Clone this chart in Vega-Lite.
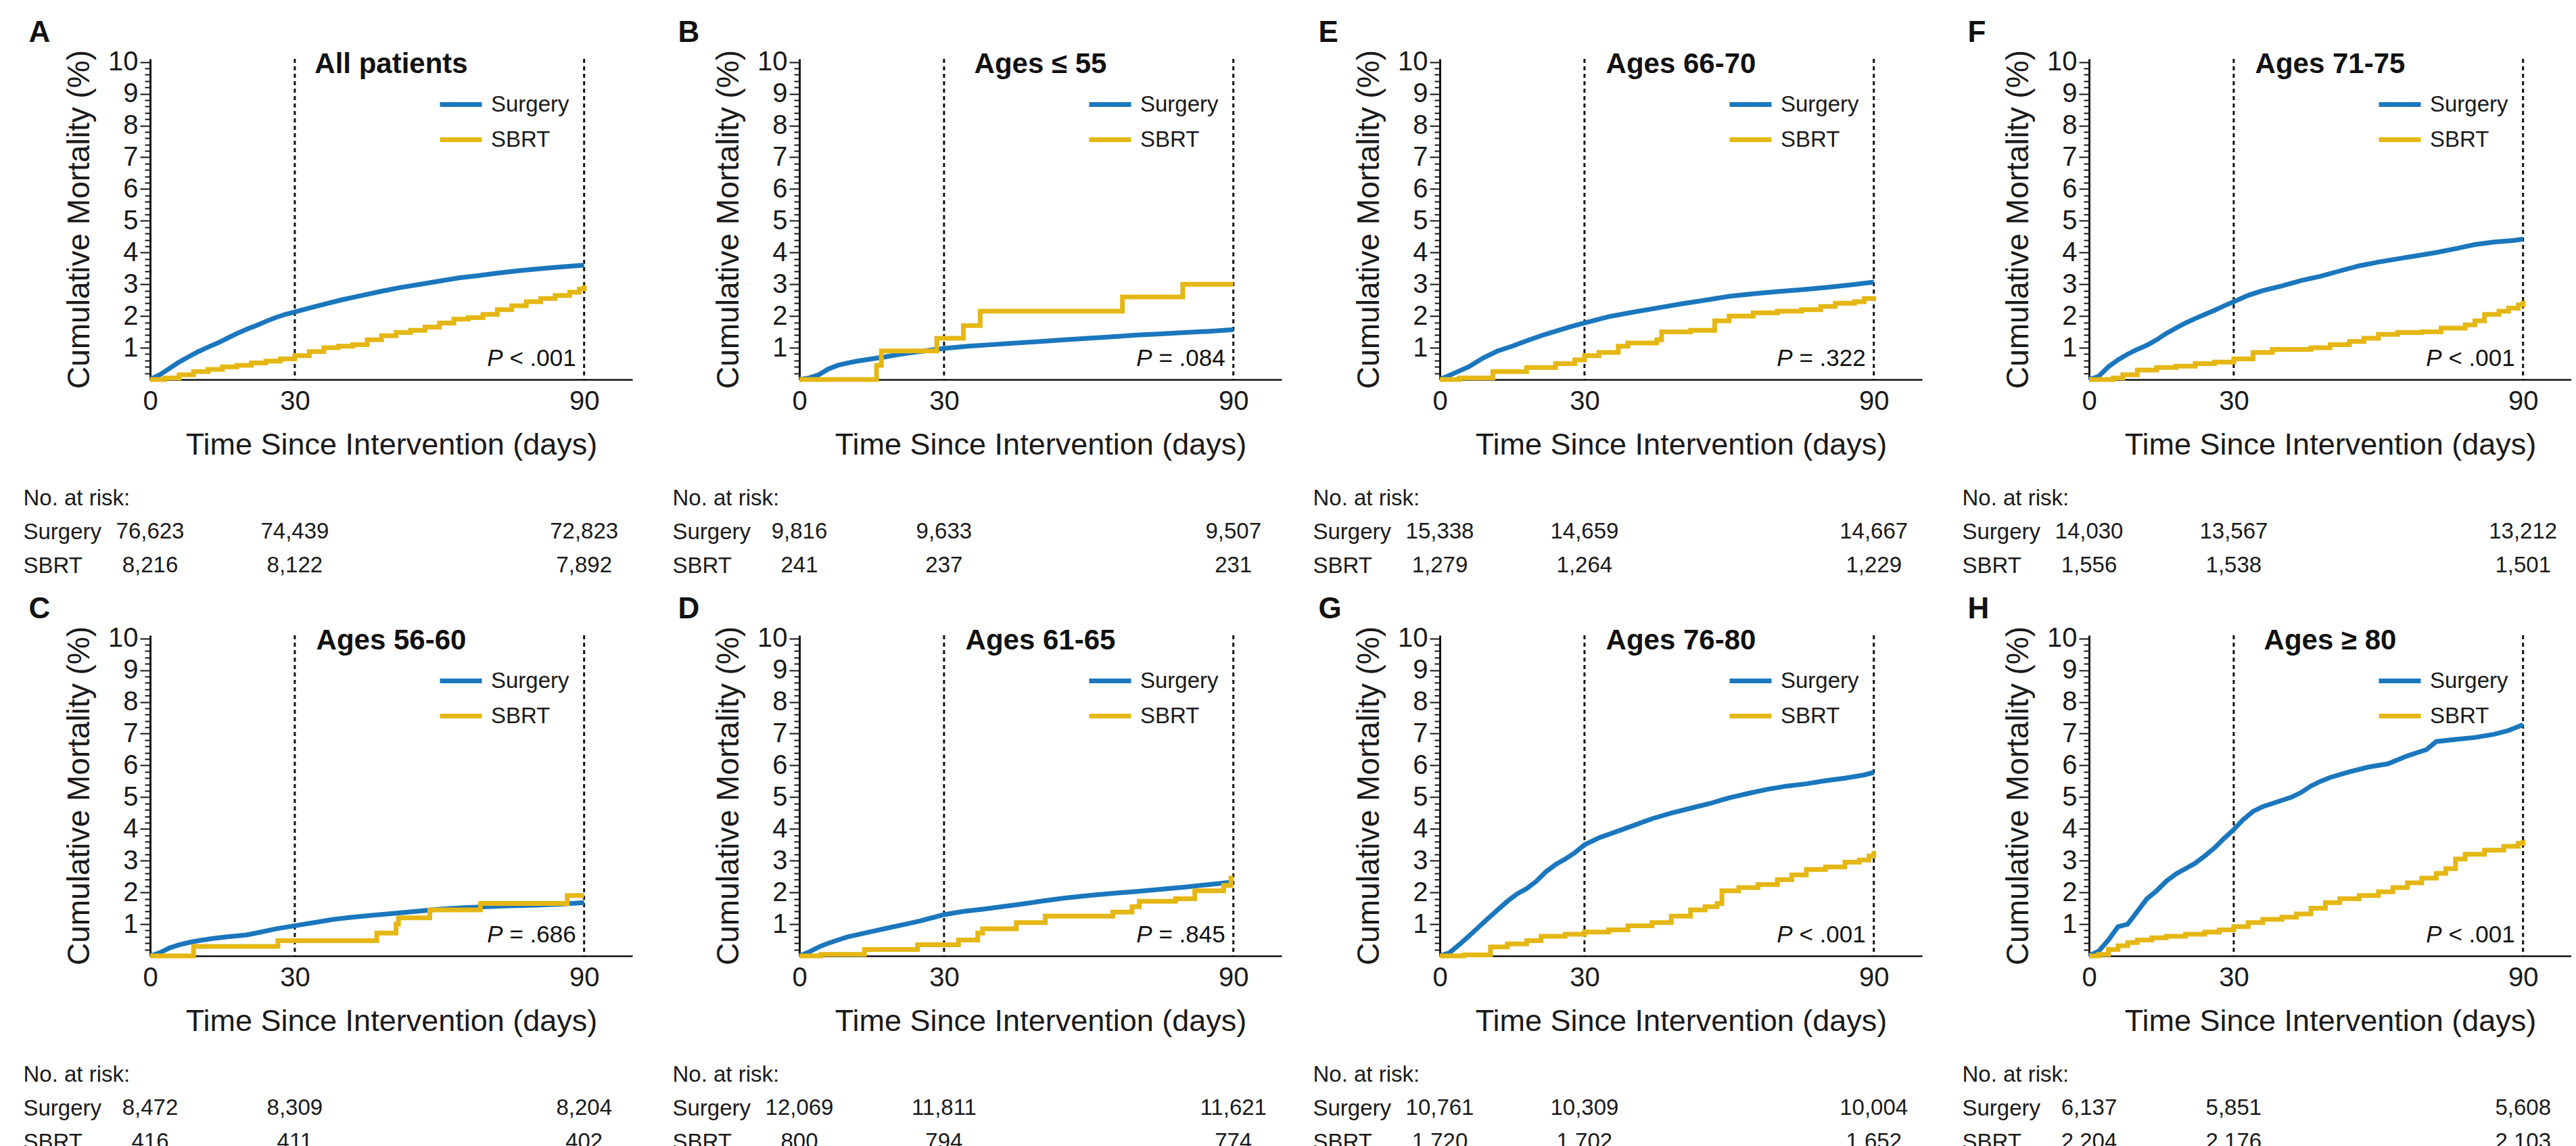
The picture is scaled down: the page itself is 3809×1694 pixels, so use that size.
{
"$schema": "https://vega.github.io/schema/vega-lite/v6.json",
"background": "white",
"padding": {"left": 34, "top": 26, "right": 0, "bottom": 0},
"config": {"view": {"stroke": null}, "font": "Liberation Sans", "axis": {"labelColor": "#1a1a1a", "titleColor": "#1a1a1a", "titleFontWeight": "normal", "grid": false}, "title": {"color": "#111"}},
"datasets": {
"refs": [{"day": 30}, {"day": 90}],
"panels": [
{"panel": "A", "label": "All patients", "pval": "< .001"},
{"panel": "B", "label": "Ages ≤ 55", "pval": "= .084"},
{"panel": "C", "label": "Ages 56-60", "pval": "= .686"},
{"panel": "D", "label": "Ages 61-65", "pval": "= .845"},
{"panel": "E", "label": "Ages 66-70", "pval": "= .322"},
{"panel": "F", "label": "Ages 71-75", "pval": "< .001"},
{"panel": "G", "label": "Ages 76-80", "pval": "< .001"},
{"panel": "H", "label": "Ages ≥ 80", "pval": "< .001"}
],
"risk": [
{"panel": "A", "group": "Surgery", "day": 0, "n": "76,623"}, {"panel": "A", "group": "Surgery", "day": 30, "n": "74,439"}, {"panel": "A", "group": "Surgery", "day": 90, "n": "72,823"},
{"panel": "A", "group": "SBRT", "day": 0, "n": "8,216"}, {"panel": "A", "group": "SBRT", "day": 30, "n": "8,122"}, {"panel": "A", "group": "SBRT", "day": 90, "n": "7,892"},
{"panel": "B", "group": "Surgery", "day": 0, "n": "9,816"}, {"panel": "B", "group": "Surgery", "day": 30, "n": "9,633"}, {"panel": "B", "group": "Surgery", "day": 90, "n": "9,507"},
{"panel": "B", "group": "SBRT", "day": 0, "n": "241"}, {"panel": "B", "group": "SBRT", "day": 30, "n": "237"}, {"panel": "B", "group": "SBRT", "day": 90, "n": "231"},
{"panel": "C", "group": "Surgery", "day": 0, "n": "8,472"}, {"panel": "C", "group": "Surgery", "day": 30, "n": "8,309"}, {"panel": "C", "group": "Surgery", "day": 90, "n": "8,204"},
{"panel": "C", "group": "SBRT", "day": 0, "n": "416"}, {"panel": "C", "group": "SBRT", "day": 30, "n": "411"}, {"panel": "C", "group": "SBRT", "day": 90, "n": "402"},
{"panel": "D", "group": "Surgery", "day": 0, "n": "12,069"}, {"panel": "D", "group": "Surgery", "day": 30, "n": "11,811"}, {"panel": "D", "group": "Surgery", "day": 90, "n": "11,621"},
{"panel": "D", "group": "SBRT", "day": 0, "n": "800"}, {"panel": "D", "group": "SBRT", "day": 30, "n": "794"}, {"panel": "D", "group": "SBRT", "day": 90, "n": "774"},
{"panel": "E", "group": "Surgery", "day": 0, "n": "15,338"}, {"panel": "E", "group": "Surgery", "day": 30, "n": "14,659"}, {"panel": "E", "group": "Surgery", "day": 90, "n": "14,667"},
{"panel": "E", "group": "SBRT", "day": 0, "n": "1,279"}, {"panel": "E", "group": "SBRT", "day": 30, "n": "1,264"}, {"panel": "E", "group": "SBRT", "day": 90, "n": "1,229"},
{"panel": "F", "group": "Surgery", "day": 0, "n": "14,030"}, {"panel": "F", "group": "Surgery", "day": 30, "n": "13,567"}, {"panel": "F", "group": "Surgery", "day": 90, "n": "13,212"},
{"panel": "F", "group": "SBRT", "day": 0, "n": "1,556"}, {"panel": "F", "group": "SBRT", "day": 30, "n": "1,538"}, {"panel": "F", "group": "SBRT", "day": 90, "n": "1,501"},
{"panel": "G", "group": "Surgery", "day": 0, "n": "10,761"}, {"panel": "G", "group": "Surgery", "day": 30, "n": "10,309"}, {"panel": "G", "group": "Surgery", "day": 90, "n": "10,004"},
{"panel": "G", "group": "SBRT", "day": 0, "n": "1,720"}, {"panel": "G", "group": "SBRT", "day": 30, "n": "1,702"}, {"panel": "G", "group": "SBRT", "day": 90, "n": "1,652"},
{"panel": "H", "group": "Surgery", "day": 0, "n": "6,137"}, {"panel": "H", "group": "Surgery", "day": 30, "n": "5,851"}, {"panel": "H", "group": "Surgery", "day": 90, "n": "5,608"},
{"panel": "H", "group": "SBRT", "day": 0, "n": "2,204"}, {"panel": "H", "group": "SBRT", "day": 30, "n": "2,176"}, {"panel": "H", "group": "SBRT", "day": 90, "n": "2,103"}
],
"curves": [
{"panel":"A","group":"Surgery","day":0,"pct":0},{"panel":"A","group":"Surgery","day":2,"pct":0.15},{"panel":"A","group":"Surgery","day":4,"pct":0.35},{"panel":"A","group":"Surgery","day":6,"pct":0.55},{"panel":"A","group":"Surgery","day":8,"pct":0.72},{"panel":"A","group":"Surgery","day":10,"pct":0.88},{"panel":"A","group":"Surgery","day":12,"pct":1.02},{"panel":"A","group":"Surgery","day":14,"pct":1.15},{"panel":"A","group":"Surgery","day":16,"pct":1.3},{"panel":"A","group":"Surgery","day":18,"pct":1.45},{"panel":"A","group":"Surgery","day":20,"pct":1.58},{"panel":"A","group":"Surgery","day":22,"pct":1.7},{"panel":"A","group":"Surgery","day":24,"pct":1.83},{"panel":"A","group":"Surgery","day":26,"pct":1.95},{"panel":"A","group":"Surgery","day":28,"pct":2.05},{"panel":"A","group":"Surgery","day":30,"pct":2.13},{"panel":"A","group":"Surgery","day":33,"pct":2.25},{"panel":"A","group":"Surgery","day":36,"pct":2.37},{"panel":"A","group":"Surgery","day":40,"pct":2.52},{"panel":"A","group":"Surgery","day":44,"pct":2.65},{"panel":"A","group":"Surgery","day":48,"pct":2.78},{"panel":"A","group":"Surgery","day":52,"pct":2.9},{"panel":"A","group":"Surgery","day":56,"pct":3.0},{"panel":"A","group":"Surgery","day":60,"pct":3.1},{"panel":"A","group":"Surgery","day":64,"pct":3.2},{"panel":"A","group":"Surgery","day":68,"pct":3.27},{"panel":"A","group":"Surgery","day":72,"pct":3.35},{"panel":"A","group":"Surgery","day":76,"pct":3.42},{"panel":"A","group":"Surgery","day":80,"pct":3.48},{"panel":"A","group":"Surgery","day":84,"pct":3.53},{"panel":"A","group":"Surgery","day":88,"pct":3.58},{"panel":"A","group":"Surgery","day":90,"pct":3.6},
{"panel":"A","group":"SBRT","day":0,"pct":0},{"panel":"A","group":"SBRT","day":3,"pct":0.05},{"panel":"A","group":"SBRT","day":6,"pct":0.15},{"panel":"A","group":"SBRT","day":9,"pct":0.25},{"panel":"A","group":"SBRT","day":12,"pct":0.32},{"panel":"A","group":"SBRT","day":15,"pct":0.4},{"panel":"A","group":"SBRT","day":18,"pct":0.45},{"panel":"A","group":"SBRT","day":21,"pct":0.52},{"panel":"A","group":"SBRT","day":24,"pct":0.58},{"panel":"A","group":"SBRT","day":27,"pct":0.65},{"panel":"A","group":"SBRT","day":30,"pct":0.75},{"panel":"A","group":"SBRT","day":33,"pct":0.88},{"panel":"A","group":"SBRT","day":36,"pct":1.0},{"panel":"A","group":"SBRT","day":39,"pct":1.05},{"panel":"A","group":"SBRT","day":42,"pct":1.1},{"panel":"A","group":"SBRT","day":45,"pct":1.25},{"panel":"A","group":"SBRT","day":48,"pct":1.38},{"panel":"A","group":"SBRT","day":51,"pct":1.48},{"panel":"A","group":"SBRT","day":54,"pct":1.55},{"panel":"A","group":"SBRT","day":57,"pct":1.65},{"panel":"A","group":"SBRT","day":60,"pct":1.78},{"panel":"A","group":"SBRT","day":63,"pct":1.9},{"panel":"A","group":"SBRT","day":66,"pct":1.95},{"panel":"A","group":"SBRT","day":69,"pct":2.05},{"panel":"A","group":"SBRT","day":72,"pct":2.2},{"panel":"A","group":"SBRT","day":75,"pct":2.32},{"panel":"A","group":"SBRT","day":78,"pct":2.45},{"panel":"A","group":"SBRT","day":81,"pct":2.55},{"panel":"A","group":"SBRT","day":84,"pct":2.65},{"panel":"A","group":"SBRT","day":87,"pct":2.75},{"panel":"A","group":"SBRT","day":89,"pct":2.85},{"panel":"A","group":"SBRT","day":90,"pct":2.97},
{"panel":"B","group":"Surgery","day":0,"pct":0},{"panel":"B","group":"Surgery","day":2,"pct":0.05},{"panel":"B","group":"Surgery","day":4,"pct":0.15},{"panel":"B","group":"Surgery","day":6,"pct":0.33},{"panel":"B","group":"Surgery","day":8,"pct":0.45},{"panel":"B","group":"Surgery","day":10,"pct":0.52},{"panel":"B","group":"Surgery","day":12,"pct":0.58},{"panel":"B","group":"Surgery","day":15,"pct":0.65},{"panel":"B","group":"Surgery","day":18,"pct":0.72},{"panel":"B","group":"Surgery","day":21,"pct":0.8},{"panel":"B","group":"Surgery","day":24,"pct":0.86},{"panel":"B","group":"Surgery","day":27,"pct":0.92},{"panel":"B","group":"Surgery","day":30,"pct":0.98},{"panel":"B","group":"Surgery","day":35,"pct":1.05},{"panel":"B","group":"Surgery","day":40,"pct":1.1},{"panel":"B","group":"Surgery","day":45,"pct":1.15},{"panel":"B","group":"Surgery","day":50,"pct":1.2},{"panel":"B","group":"Surgery","day":55,"pct":1.25},{"panel":"B","group":"Surgery","day":60,"pct":1.3},{"panel":"B","group":"Surgery","day":65,"pct":1.35},{"panel":"B","group":"Surgery","day":70,"pct":1.4},{"panel":"B","group":"Surgery","day":75,"pct":1.44},{"panel":"B","group":"Surgery","day":80,"pct":1.48},{"panel":"B","group":"Surgery","day":85,"pct":1.52},{"panel":"B","group":"Surgery","day":90,"pct":1.57},
{"panel":"B","group":"SBRT","day":0,"pct":0},{"panel":"B","group":"SBRT","day":16,"pct":0.45},{"panel":"B","group":"SBRT","day":17,"pct":0.9},{"panel":"B","group":"SBRT","day":28.5,"pct":1.3},{"panel":"B","group":"SBRT","day":34,"pct":1.7},{"panel":"B","group":"SBRT","day":37.5,"pct":2.15},{"panel":"B","group":"SBRT","day":67,"pct":2.6},{"panel":"B","group":"SBRT","day":79.5,"pct":3.0},{"panel":"B","group":"SBRT","day":90,"pct":3.0},
{"panel":"C","group":"Surgery","day":0,"pct":0},{"panel":"C","group":"Surgery","day":2,"pct":0.1},{"panel":"C","group":"Surgery","day":4,"pct":0.25},{"panel":"C","group":"Surgery","day":6,"pct":0.35},{"panel":"C","group":"Surgery","day":8,"pct":0.42},{"panel":"C","group":"Surgery","day":10,"pct":0.48},{"panel":"C","group":"Surgery","day":13,"pct":0.55},{"panel":"C","group":"Surgery","day":16,"pct":0.6},{"panel":"C","group":"Surgery","day":20,"pct":0.66},{"panel":"C","group":"Surgery","day":23,"pct":0.75},{"panel":"C","group":"Surgery","day":26,"pct":0.85},{"panel":"C","group":"Surgery","day":30,"pct":0.95},{"panel":"C","group":"Surgery","day":34,"pct":1.05},{"panel":"C","group":"Surgery","day":38,"pct":1.15},{"panel":"C","group":"Surgery","day":42,"pct":1.22},{"panel":"C","group":"Surgery","day":46,"pct":1.28},{"panel":"C","group":"Surgery","day":50,"pct":1.33},{"panel":"C","group":"Surgery","day":55,"pct":1.4},{"panel":"C","group":"Surgery","day":60,"pct":1.47},{"panel":"C","group":"Surgery","day":65,"pct":1.52},{"panel":"C","group":"Surgery","day":70,"pct":1.55},{"panel":"C","group":"Surgery","day":75,"pct":1.58},{"panel":"C","group":"Surgery","day":80,"pct":1.6},{"panel":"C","group":"Surgery","day":85,"pct":1.63},{"panel":"C","group":"Surgery","day":90,"pct":1.68},
{"panel":"C","group":"SBRT","day":0,"pct":0},{"panel":"C","group":"SBRT","day":9,"pct":0.3},{"panel":"C","group":"SBRT","day":26.5,"pct":0.48},{"panel":"C","group":"SBRT","day":47,"pct":0.72},{"panel":"C","group":"SBRT","day":51,"pct":1.0},{"panel":"C","group":"SBRT","day":51.5,"pct":1.2},{"panel":"C","group":"SBRT","day":58,"pct":1.45},{"panel":"C","group":"SBRT","day":68.5,"pct":1.65},{"panel":"C","group":"SBRT","day":86.5,"pct":1.9},{"panel":"C","group":"SBRT","day":90,"pct":1.9},
{"panel":"D","group":"Surgery","day":0,"pct":0},{"panel":"D","group":"Surgery","day":2,"pct":0.12},{"panel":"D","group":"Surgery","day":4,"pct":0.28},{"panel":"D","group":"Surgery","day":6,"pct":0.4},{"panel":"D","group":"Surgery","day":8,"pct":0.5},{"panel":"D","group":"Surgery","day":10,"pct":0.6},{"panel":"D","group":"Surgery","day":13,"pct":0.7},{"panel":"D","group":"Surgery","day":16,"pct":0.8},{"panel":"D","group":"Surgery","day":19,"pct":0.9},{"panel":"D","group":"Surgery","day":22,"pct":1.0},{"panel":"D","group":"Surgery","day":25,"pct":1.1},{"panel":"D","group":"Surgery","day":28,"pct":1.22},{"panel":"D","group":"Surgery","day":30,"pct":1.3},{"panel":"D","group":"Surgery","day":34,"pct":1.4},{"panel":"D","group":"Surgery","day":38,"pct":1.47},{"panel":"D","group":"Surgery","day":42,"pct":1.55},{"panel":"D","group":"Surgery","day":46,"pct":1.63},{"panel":"D","group":"Surgery","day":50,"pct":1.72},{"panel":"D","group":"Surgery","day":55,"pct":1.82},{"panel":"D","group":"Surgery","day":60,"pct":1.9},{"panel":"D","group":"Surgery","day":65,"pct":1.97},{"panel":"D","group":"Surgery","day":70,"pct":2.03},{"panel":"D","group":"Surgery","day":75,"pct":2.1},{"panel":"D","group":"Surgery","day":80,"pct":2.17},{"panel":"D","group":"Surgery","day":85,"pct":2.25},{"panel":"D","group":"Surgery","day":90,"pct":2.33},
{"panel":"D","group":"SBRT","day":0,"pct":0},{"panel":"D","group":"SBRT","day":4.5,"pct":0.05},{"panel":"D","group":"SBRT","day":13.5,"pct":0.2},{"panel":"D","group":"SBRT","day":24.5,"pct":0.35},{"panel":"D","group":"SBRT","day":33,"pct":0.5},{"panel":"D","group":"SBRT","day":37,"pct":0.72},{"panel":"D","group":"SBRT","day":38,"pct":0.85},{"panel":"D","group":"SBRT","day":45,"pct":1.05},{"panel":"D","group":"SBRT","day":51,"pct":1.25},{"panel":"D","group":"SBRT","day":65,"pct":1.38},{"panel":"D","group":"SBRT","day":69,"pct":1.55},{"panel":"D","group":"SBRT","day":70.5,"pct":1.72},{"panel":"D","group":"SBRT","day":78,"pct":1.8},{"panel":"D","group":"SBRT","day":82,"pct":2.05},{"panel":"D","group":"SBRT","day":88,"pct":2.22},{"panel":"D","group":"SBRT","day":89.5,"pct":2.45},{"panel":"D","group":"SBRT","day":90,"pct":2.45},
{"panel":"E","group":"Surgery","day":0,"pct":0},{"panel":"E","group":"Surgery","day":3,"pct":0.2},{"panel":"E","group":"Surgery","day":6,"pct":0.4},{"panel":"E","group":"Surgery","day":9,"pct":0.68},{"panel":"E","group":"Surgery","day":12,"pct":0.9},{"panel":"E","group":"Surgery","day":15,"pct":1.05},{"panel":"E","group":"Surgery","day":18,"pct":1.22},{"panel":"E","group":"Surgery","day":21,"pct":1.38},{"panel":"E","group":"Surgery","day":24,"pct":1.52},{"panel":"E","group":"Surgery","day":27,"pct":1.66},{"panel":"E","group":"Surgery","day":30,"pct":1.78},{"panel":"E","group":"Surgery","day":35,"pct":1.98},{"panel":"E","group":"Surgery","day":40,"pct":2.12},{"panel":"E","group":"Surgery","day":45,"pct":2.25},{"panel":"E","group":"Surgery","day":50,"pct":2.38},{"panel":"E","group":"Surgery","day":55,"pct":2.5},{"panel":"E","group":"Surgery","day":60,"pct":2.62},{"panel":"E","group":"Surgery","day":65,"pct":2.7},{"panel":"E","group":"Surgery","day":70,"pct":2.77},{"panel":"E","group":"Surgery","day":75,"pct":2.83},{"panel":"E","group":"Surgery","day":80,"pct":2.9},{"panel":"E","group":"Surgery","day":85,"pct":2.98},{"panel":"E","group":"Surgery","day":90,"pct":3.07},
{"panel":"E","group":"SBRT","day":0,"pct":0},{"panel":"E","group":"SBRT","day":4,"pct":0.05},{"panel":"E","group":"SBRT","day":11,"pct":0.25},{"panel":"E","group":"SBRT","day":18,"pct":0.38},{"panel":"E","group":"SBRT","day":24,"pct":0.5},{"panel":"E","group":"SBRT","day":28,"pct":0.62},{"panel":"E","group":"SBRT","day":30,"pct":0.75},{"panel":"E","group":"SBRT","day":33,"pct":0.85},{"panel":"E","group":"SBRT","day":37,"pct":1.05},{"panel":"E","group":"SBRT","day":39,"pct":1.15},{"panel":"E","group":"SBRT","day":45,"pct":1.25},{"panel":"E","group":"SBRT","day":46,"pct":1.5},{"panel":"E","group":"SBRT","day":52,"pct":1.55},{"panel":"E","group":"SBRT","day":57,"pct":1.85},{"panel":"E","group":"SBRT","day":60,"pct":2.0},{"panel":"E","group":"SBRT","day":65,"pct":2.1},{"panel":"E","group":"SBRT","day":70,"pct":2.15},{"panel":"E","group":"SBRT","day":75,"pct":2.2},{"panel":"E","group":"SBRT","day":79,"pct":2.3},{"panel":"E","group":"SBRT","day":82,"pct":2.4},{"panel":"E","group":"SBRT","day":86,"pct":2.45},{"panel":"E","group":"SBRT","day":88,"pct":2.55},{"panel":"E","group":"SBRT","day":90,"pct":2.62},
{"panel":"F","group":"Surgery","day":0,"pct":0},{"panel":"F","group":"Surgery","day":2,"pct":0.1},{"panel":"F","group":"Surgery","day":4,"pct":0.4},{"panel":"F","group":"Surgery","day":6,"pct":0.62},{"panel":"F","group":"Surgery","day":8,"pct":0.8},{"panel":"F","group":"Surgery","day":10,"pct":0.95},{"panel":"F","group":"Surgery","day":12,"pct":1.08},{"panel":"F","group":"Surgery","day":14,"pct":1.25},{"panel":"F","group":"Surgery","day":16,"pct":1.45},{"panel":"F","group":"Surgery","day":18,"pct":1.62},{"panel":"F","group":"Surgery","day":20,"pct":1.78},{"panel":"F","group":"Surgery","day":22,"pct":1.92},{"panel":"F","group":"Surgery","day":24,"pct":2.05},{"panel":"F","group":"Surgery","day":26,"pct":2.18},{"panel":"F","group":"Surgery","day":28,"pct":2.32},{"panel":"F","group":"Surgery","day":30,"pct":2.45},{"panel":"F","group":"Surgery","day":33,"pct":2.65},{"panel":"F","group":"Surgery","day":36,"pct":2.8},{"panel":"F","group":"Surgery","day":40,"pct":2.95},{"panel":"F","group":"Surgery","day":44,"pct":3.12},{"panel":"F","group":"Surgery","day":48,"pct":3.25},{"panel":"F","group":"Surgery","day":52,"pct":3.42},{"panel":"F","group":"Surgery","day":56,"pct":3.58},{"panel":"F","group":"Surgery","day":60,"pct":3.7},{"panel":"F","group":"Surgery","day":64,"pct":3.8},{"panel":"F","group":"Surgery","day":68,"pct":3.9},{"panel":"F","group":"Surgery","day":72,"pct":4.0},{"panel":"F","group":"Surgery","day":76,"pct":4.12},{"panel":"F","group":"Surgery","day":80,"pct":4.25},{"panel":"F","group":"Surgery","day":84,"pct":4.33},{"panel":"F","group":"Surgery","day":88,"pct":4.38},{"panel":"F","group":"Surgery","day":90,"pct":4.42},
{"panel":"F","group":"SBRT","day":0,"pct":0},{"panel":"F","group":"SBRT","day":5,"pct":0.05},{"panel":"F","group":"SBRT","day":7,"pct":0.15},{"panel":"F","group":"SBRT","day":10,"pct":0.3},{"panel":"F","group":"SBRT","day":14,"pct":0.38},{"panel":"F","group":"SBRT","day":18,"pct":0.42},{"panel":"F","group":"SBRT","day":22,"pct":0.5},{"panel":"F","group":"SBRT","day":26,"pct":0.55},{"panel":"F","group":"SBRT","day":30,"pct":0.65},{"panel":"F","group":"SBRT","day":34,"pct":0.85},{"panel":"F","group":"SBRT","day":38,"pct":0.95},{"panel":"F","group":"SBRT","day":46,"pct":1.0},{"panel":"F","group":"SBRT","day":50,"pct":1.1},{"panel":"F","group":"SBRT","day":54,"pct":1.2},{"panel":"F","group":"SBRT","day":57,"pct":1.3},{"panel":"F","group":"SBRT","day":60,"pct":1.42},{"panel":"F","group":"SBRT","day":64,"pct":1.48},{"panel":"F","group":"SBRT","day":69,"pct":1.5},{"panel":"F","group":"SBRT","day":73,"pct":1.62},{"panel":"F","group":"SBRT","day":78,"pct":1.72},{"panel":"F","group":"SBRT","day":80,"pct":1.85},{"panel":"F","group":"SBRT","day":82,"pct":2.05},{"panel":"F","group":"SBRT","day":85,"pct":2.15},{"panel":"F","group":"SBRT","day":87,"pct":2.25},{"panel":"F","group":"SBRT","day":89,"pct":2.35},{"panel":"F","group":"SBRT","day":90,"pct":2.48},
{"panel":"G","group":"Surgery","day":0,"pct":0},{"panel":"G","group":"Surgery","day":2,"pct":0.1},{"panel":"G","group":"Surgery","day":4,"pct":0.35},{"panel":"G","group":"Surgery","day":6,"pct":0.62},{"panel":"G","group":"Surgery","day":8,"pct":0.9},{"panel":"G","group":"Surgery","day":10,"pct":1.18},{"panel":"G","group":"Surgery","day":12,"pct":1.45},{"panel":"G","group":"Surgery","day":14,"pct":1.72},{"panel":"G","group":"Surgery","day":16,"pct":1.95},{"panel":"G","group":"Surgery","day":18,"pct":2.12},{"panel":"G","group":"Surgery","day":20,"pct":2.35},{"panel":"G","group":"Surgery","day":22,"pct":2.65},{"panel":"G","group":"Surgery","day":24,"pct":2.88},{"panel":"G","group":"Surgery","day":26,"pct":3.05},{"panel":"G","group":"Surgery","day":28,"pct":3.25},{"panel":"G","group":"Surgery","day":30,"pct":3.5},{"panel":"G","group":"Surgery","day":33,"pct":3.72},{"panel":"G","group":"Surgery","day":36,"pct":3.88},{"panel":"G","group":"Surgery","day":40,"pct":4.1},{"panel":"G","group":"Surgery","day":44,"pct":4.32},{"panel":"G","group":"Surgery","day":48,"pct":4.5},{"panel":"G","group":"Surgery","day":52,"pct":4.65},{"panel":"G","group":"Surgery","day":56,"pct":4.8},{"panel":"G","group":"Surgery","day":60,"pct":4.98},{"panel":"G","group":"Surgery","day":64,"pct":5.12},{"panel":"G","group":"Surgery","day":68,"pct":5.25},{"panel":"G","group":"Surgery","day":72,"pct":5.35},{"panel":"G","group":"Surgery","day":76,"pct":5.42},{"panel":"G","group":"Surgery","day":80,"pct":5.52},{"panel":"G","group":"Surgery","day":84,"pct":5.6},{"panel":"G","group":"Surgery","day":88,"pct":5.7},{"panel":"G","group":"Surgery","day":90,"pct":5.78},
{"panel":"G","group":"SBRT","day":0,"pct":0},{"panel":"G","group":"SBRT","day":5,"pct":0.03},{"panel":"G","group":"SBRT","day":10.5,"pct":0.28},{"panel":"G","group":"SBRT","day":14,"pct":0.38},{"panel":"G","group":"SBRT","day":18,"pct":0.48},{"panel":"G","group":"SBRT","day":21,"pct":0.62},{"panel":"G","group":"SBRT","day":26,"pct":0.68},{"panel":"G","group":"SBRT","day":30,"pct":0.75},{"panel":"G","group":"SBRT","day":35,"pct":0.82},{"panel":"G","group":"SBRT","day":39,"pct":0.95},{"panel":"G","group":"SBRT","day":44,"pct":1.05},{"panel":"G","group":"SBRT","day":48,"pct":1.25},{"panel":"G","group":"SBRT","day":52,"pct":1.45},{"panel":"G","group":"SBRT","day":55,"pct":1.55},{"panel":"G","group":"SBRT","day":57.5,"pct":1.65},{"panel":"G","group":"SBRT","day":58.5,"pct":2.05},{"panel":"G","group":"SBRT","day":62,"pct":2.15},{"panel":"G","group":"SBRT","day":66,"pct":2.25},{"panel":"G","group":"SBRT","day":70,"pct":2.4},{"panel":"G","group":"SBRT","day":73,"pct":2.55},{"panel":"G","group":"SBRT","day":76,"pct":2.72},{"panel":"G","group":"SBRT","day":80,"pct":2.8},{"panel":"G","group":"SBRT","day":84,"pct":2.95},{"panel":"G","group":"SBRT","day":87,"pct":3.02},{"panel":"G","group":"SBRT","day":89,"pct":3.15},{"panel":"G","group":"SBRT","day":90,"pct":3.3},
{"panel":"H","group":"Surgery","day":0,"pct":0},{"panel":"H","group":"Surgery","day":2,"pct":0.15},{"panel":"H","group":"Surgery","day":4,"pct":0.5},{"panel":"H","group":"Surgery","day":6,"pct":0.92},{"panel":"H","group":"Surgery","day":8,"pct":1.0},{"panel":"H","group":"Surgery","day":10,"pct":1.4},{"panel":"H","group":"Surgery","day":12,"pct":1.8},{"panel":"H","group":"Surgery","day":14,"pct":2.05},{"panel":"H","group":"Surgery","day":16,"pct":2.35},{"panel":"H","group":"Surgery","day":18,"pct":2.58},{"panel":"H","group":"Surgery","day":20,"pct":2.75},{"panel":"H","group":"Surgery","day":22,"pct":2.92},{"panel":"H","group":"Surgery","day":24,"pct":3.15},{"panel":"H","group":"Surgery","day":26,"pct":3.4},{"panel":"H","group":"Surgery","day":28,"pct":3.7},{"panel":"H","group":"Surgery","day":30,"pct":3.98},{"panel":"H","group":"Surgery","day":32,"pct":4.3},{"panel":"H","group":"Surgery","day":34,"pct":4.55},{"panel":"H","group":"Surgery","day":36,"pct":4.7},{"panel":"H","group":"Surgery","day":38,"pct":4.8},{"panel":"H","group":"Surgery","day":40,"pct":4.9},{"panel":"H","group":"Surgery","day":42,"pct":5.0},{"panel":"H","group":"Surgery","day":44,"pct":5.15},{"panel":"H","group":"Surgery","day":46,"pct":5.35},{"panel":"H","group":"Surgery","day":48,"pct":5.5},{"panel":"H","group":"Surgery","day":50,"pct":5.62},{"panel":"H","group":"Surgery","day":54,"pct":5.8},{"panel":"H","group":"Surgery","day":58,"pct":5.95},{"panel":"H","group":"Surgery","day":62,"pct":6.05},{"panel":"H","group":"Surgery","day":66,"pct":6.3},{"panel":"H","group":"Surgery","day":70,"pct":6.5},{"panel":"H","group":"Surgery","day":72,"pct":6.75},{"panel":"H","group":"Surgery","day":76,"pct":6.82},{"panel":"H","group":"Surgery","day":80,"pct":6.88},{"panel":"H","group":"Surgery","day":84,"pct":6.98},{"panel":"H","group":"Surgery","day":87,"pct":7.1},{"panel":"H","group":"Surgery","day":90,"pct":7.28},
{"panel":"H","group":"SBRT","day":0,"pct":0},{"panel":"H","group":"SBRT","day":2,"pct":0.05},{"panel":"H","group":"SBRT","day":4,"pct":0.2},{"panel":"H","group":"SBRT","day":6,"pct":0.32},{"panel":"H","group":"SBRT","day":8,"pct":0.42},{"panel":"H","group":"SBRT","day":10,"pct":0.5},{"panel":"H","group":"SBRT","day":13,"pct":0.57},{"panel":"H","group":"SBRT","day":16,"pct":0.62},{"panel":"H","group":"SBRT","day":20,"pct":0.68},{"panel":"H","group":"SBRT","day":24,"pct":0.75},{"panel":"H","group":"SBRT","day":27,"pct":0.82},{"panel":"H","group":"SBRT","day":30,"pct":0.92},{"panel":"H","group":"SBRT","day":33,"pct":1.05},{"panel":"H","group":"SBRT","day":36,"pct":1.15},{"panel":"H","group":"SBRT","day":40,"pct":1.22},{"panel":"H","group":"SBRT","day":43,"pct":1.32},{"panel":"H","group":"SBRT","day":46,"pct":1.5},{"panel":"H","group":"SBRT","day":49,"pct":1.68},{"panel":"H","group":"SBRT","day":52,"pct":1.8},{"panel":"H","group":"SBRT","day":56,"pct":1.9},{"panel":"H","group":"SBRT","day":60,"pct":2.02},{"panel":"H","group":"SBRT","day":63,"pct":2.15},{"panel":"H","group":"SBRT","day":66,"pct":2.3},{"panel":"H","group":"SBRT","day":69,"pct":2.45},{"panel":"H","group":"SBRT","day":72,"pct":2.6},{"panel":"H","group":"SBRT","day":74,"pct":2.75},{"panel":"H","group":"SBRT","day":76,"pct":3.05},{"panel":"H","group":"SBRT","day":78,"pct":3.2},{"panel":"H","group":"SBRT","day":82,"pct":3.33},{"panel":"H","group":"SBRT","day":86,"pct":3.45},{"panel":"H","group":"SBRT","day":89,"pct":3.55},{"panel":"H","group":"SBRT","day":90,"pct":3.65}
]
},
"spacing": 17,
"resolve": {"scale": {"color": "independent"}, "legend": {"color": "independent"}},
"vconcat": [
{"spacing": 46, "resolve": {"scale": {"color": "independent"}, "legend": {"color": "independent"}}, "hconcat": [
{"spacing": 59, "resolve": {"scale": {"color": "independent"}, "legend": {"color": "independent"}}, "hconcat": [
{"spacing": 31, "resolve": {"scale": {"color": "independent"}, "legend": {"color": "independent"}}, "vconcat": [
{"width": 713, "height": 474,
"title": {"text": "A", "anchor": "start", "frame": "bounds", "dx": -52, "offset": -34, "fontSize": 44, "fontWeight": "bold", "baseline": "alphabetic"},
"layer": [
{"data": {"name": "refs"}, "mark": {"type": "rule", "strokeDash": [6, 5], "strokeWidth": 3, "color": "#111"}, "encoding": {"x": {"field": "day", "type": "quantitative", "scale": {"domain": [0, 100], "nice": false}, "axis": {"title": "Time Since Intervention (days)", "values": [0, 30, 90], "ticks": false, "tickSize": 0, "labelFlush": false, "labelOverlap": false, "labelFontSize": 40, "labelPadding": 12, "titleFontSize": 45, "titlePadding": 22, "domainWidth": 2.5, "domainColor": "#111"}}}},
{"data": {"name": "curves"}, "transform": [{"filter": "datum.panel === 'A' && datum.group === 'Surgery'"}], "mark": {"type": "line", "interpolate": "linear", "strokeWidth": 7}, "encoding": {"x": {"field": "day", "type": "quantitative", "scale": {"domain": [0, 100], "nice": false}, "axis": {"title": "Time Since Intervention (days)", "values": [0, 30, 90], "ticks": false, "tickSize": 0, "labelFlush": false, "labelOverlap": false, "labelFontSize": 40, "labelPadding": 12, "titleFontSize": 45, "titlePadding": 22, "domainWidth": 2.5, "domainColor": "#111"}}, "y": {"field": "pct", "type": "quantitative", "scale": {"domain": [0, 10.1], "nice": false}, "axis": {"title": "Cumulative Mortality (%)", "values": [0.2,0.4,0.6,0.8,1,1.2,1.4,1.6,1.8,2,2.2,2.4,2.6,2.8,3,3.2,3.4,3.6,3.8,4,4.2,4.4,4.6,4.8,5,5.2,5.4,5.6,5.8,6,6.2,6.4,6.6,6.8,7,7.2,7.4,7.6,7.8,8,8.2,8.4,8.6,8.8,9,9.2,9.4,9.6,9.8,10], "labelExpr": "datum.value >= 0.99 && abs(datum.value - round(datum.value)) < 0.01 ? format(datum.value, 'd') : ''", "tickSize": {"condition": {"test": "abs(datum.value - round(datum.value)) < 0.01", "value": 15}, "value": 8}, "tickWidth": 2, "tickColor": "#111", "domainWidth": 3, "domainColor": "#111", "labelOverlap": false, "labelFontSize": 40, "labelPadding": 3, "titleFontSize": 46, "titlePadding": 18}}, "color": {"field": "group", "type": "nominal", "scale": {"domain": ["Surgery", "SBRT"], "range": ["#1b77bd", "#e5b714"]}, "legend": {"orient": "none", "legendX": 425, "legendY": 33, "title": null, "symbolType": "stroke", "symbolSize": 3844, "symbolStrokeWidth": 7, "labelFontSize": 33, "labelOffset": 10, "rowPadding": -3, "padding": 0, "labelColor": "#1a1a1a"}}}},
{"data": {"name": "curves"}, "transform": [{"filter": "datum.panel === 'A' && datum.group === 'SBRT'"}], "mark": {"type": "line", "interpolate": "step-after", "strokeWidth": 7}, "encoding": {"x": {"field": "day", "type": "quantitative", "scale": {"domain": [0, 100], "nice": false}, "axis": {"title": "Time Since Intervention (days)", "values": [0, 30, 90], "ticks": false, "tickSize": 0, "labelFlush": false, "labelOverlap": false, "labelFontSize": 40, "labelPadding": 12, "titleFontSize": 45, "titlePadding": 22, "domainWidth": 2.5, "domainColor": "#111"}}, "y": {"field": "pct", "type": "quantitative", "scale": {"domain": [0, 10.1], "nice": false}, "axis": {"title": "Cumulative Mortality (%)", "values": [0.2,0.4,0.6,0.8,1,1.2,1.4,1.6,1.8,2,2.2,2.4,2.6,2.8,3,3.2,3.4,3.6,3.8,4,4.2,4.4,4.6,4.8,5,5.2,5.4,5.6,5.8,6,6.2,6.4,6.6,6.8,7,7.2,7.4,7.6,7.8,8,8.2,8.4,8.6,8.8,9,9.2,9.4,9.6,9.8,10], "labelExpr": "datum.value >= 0.99 && abs(datum.value - round(datum.value)) < 0.01 ? format(datum.value, 'd') : ''", "tickSize": {"condition": {"test": "abs(datum.value - round(datum.value)) < 0.01", "value": 15}, "value": 8}, "tickWidth": 2, "tickColor": "#111", "domainWidth": 3, "domainColor": "#111", "labelOverlap": false, "labelFontSize": 40, "labelPadding": 3, "titleFontSize": 46, "titlePadding": 18}}, "color": {"field": "group", "type": "nominal", "scale": {"domain": ["Surgery", "SBRT"], "range": ["#1b77bd", "#e5b714"]}, "legend": {"orient": "none", "legendX": 425, "legendY": 33, "title": null, "symbolType": "stroke", "symbolSize": 3844, "symbolStrokeWidth": 7, "labelFontSize": 33, "labelOffset": 10, "rowPadding": -3, "padding": 0, "labelColor": "#1a1a1a"}}}},
{"data": {"name": "panels"}, "transform": [{"filter": "datum.panel === 'A'"}], "mark": {"type": "text", "fontSize": 42, "fontWeight": "bold", "baseline": "middle", "color": "#111"}, "encoding": {"x": {"datum": 50, "type": "quantitative", "scale": {"domain": [0, 100], "nice": false}, "axis": {"title": "Time Since Intervention (days)", "values": [0, 30, 90], "ticks": false, "tickSize": 0, "labelFlush": false, "labelOverlap": false, "labelFontSize": 40, "labelPadding": 12, "titleFontSize": 45, "titlePadding": 22, "domainWidth": 2.5, "domainColor": "#111"}}, "y": {"datum": 9.93, "type": "quantitative", "scale": {"domain": [0, 10.1], "nice": false}, "axis": {"title": "Cumulative Mortality (%)", "values": [0.2,0.4,0.6,0.8,1,1.2,1.4,1.6,1.8,2,2.2,2.4,2.6,2.8,3,3.2,3.4,3.6,3.8,4,4.2,4.4,4.6,4.8,5,5.2,5.4,5.6,5.8,6,6.2,6.4,6.6,6.8,7,7.2,7.4,7.6,7.8,8,8.2,8.4,8.6,8.8,9,9.2,9.4,9.6,9.8,10], "labelExpr": "datum.value >= 0.99 && abs(datum.value - round(datum.value)) < 0.01 ? format(datum.value, 'd') : ''", "tickSize": {"condition": {"test": "abs(datum.value - round(datum.value)) < 0.01", "value": 15}, "value": 8}, "tickWidth": 2, "tickColor": "#111", "domainWidth": 3, "domainColor": "#111", "labelOverlap": false, "labelFontSize": 40, "labelPadding": 3, "titleFontSize": 46, "titlePadding": 18}}, "text": {"field": "label"}}},
{"data": {"name": "panels"}, "transform": [{"filter": "datum.panel === 'A'"}], "mark": {"type": "text", "fontSize": 35, "align": "right", "baseline": "middle", "dx": -12, "color": "#111"}, "encoding": {"x": {"datum": 90, "type": "quantitative", "scale": {"domain": [0, 100], "nice": false}, "axis": {"title": "Time Since Intervention (days)", "values": [0, 30, 90], "ticks": false, "tickSize": 0, "labelFlush": false, "labelOverlap": false, "labelFontSize": 40, "labelPadding": 12, "titleFontSize": 45, "titlePadding": 22, "domainWidth": 2.5, "domainColor": "#111"}}, "y": {"datum": 0.65, "type": "quantitative", "scale": {"domain": [0, 10.1], "nice": false}, "axis": {"title": "Cumulative Mortality (%)", "values": [0.2,0.4,0.6,0.8,1,1.2,1.4,1.6,1.8,2,2.2,2.4,2.6,2.8,3,3.2,3.4,3.6,3.8,4,4.2,4.4,4.6,4.8,5,5.2,5.4,5.6,5.8,6,6.2,6.4,6.6,6.8,7,7.2,7.4,7.6,7.8,8,8.2,8.4,8.6,8.8,9,9.2,9.4,9.6,9.8,10], "labelExpr": "datum.value >= 0.99 && abs(datum.value - round(datum.value)) < 0.01 ? format(datum.value, 'd') : ''", "tickSize": {"condition": {"test": "abs(datum.value - round(datum.value)) < 0.01", "value": 15}, "value": 8}, "tickWidth": 2, "tickColor": "#111", "domainWidth": 3, "domainColor": "#111", "labelOverlap": false, "labelFontSize": 40, "labelPadding": 3, "titleFontSize": 46, "titlePadding": 18}}, "text": {"field": "pval"}}},
{"data": {"name": "panels"}, "transform": [{"filter": "datum.panel === 'A'"}], "mark": {"type": "text", "fontSize": 35, "fontStyle": "italic", "align": "right", "baseline": "middle", "dx": -120, "color": "#111"}, "encoding": {"x": {"datum": 90, "type": "quantitative", "scale": {"domain": [0, 100], "nice": false}, "axis": {"title": "Time Since Intervention (days)", "values": [0, 30, 90], "ticks": false, "tickSize": 0, "labelFlush": false, "labelOverlap": false, "labelFontSize": 40, "labelPadding": 12, "titleFontSize": 45, "titlePadding": 22, "domainWidth": 2.5, "domainColor": "#111"}}, "y": {"datum": 0.65, "type": "quantitative", "scale": {"domain": [0, 10.1], "nice": false}, "axis": {"title": "Cumulative Mortality (%)", "values": [0.2,0.4,0.6,0.8,1,1.2,1.4,1.6,1.8,2,2.2,2.4,2.6,2.8,3,3.2,3.4,3.6,3.8,4,4.2,4.4,4.6,4.8,5,5.2,5.4,5.6,5.8,6,6.2,6.4,6.6,6.8,7,7.2,7.4,7.6,7.8,8,8.2,8.4,8.6,8.8,9,9.2,9.4,9.6,9.8,10], "labelExpr": "datum.value >= 0.99 && abs(datum.value - round(datum.value)) < 0.01 ? format(datum.value, 'd') : ''", "tickSize": {"condition": {"test": "abs(datum.value - round(datum.value)) < 0.01", "value": 15}, "value": 8}, "tickWidth": 2, "tickColor": "#111", "domainWidth": 3, "domainColor": "#111", "labelOverlap": false, "labelFontSize": 40, "labelPadding": 3, "titleFontSize": 46, "titlePadding": 18}}, "text": {"value": "P"}}}
]},
{"width": 713, "height": 150, "data": {"name": "risk"}, "transform": [{"filter": "datum.panel === 'A'"}], "mark": {"type": "text", "fontSize": 33, "color": "#1a1a1a"},
"encoding": {"x": {"field": "day", "type": "quantitative", "scale": {"domain": [0, 100], "nice": false}, "axis": null}, "y": {"field": "group", "type": "nominal", "scale": {"domain": ["No. at risk:", "Surgery", "SBRT"]}, "axis": {"title": null, "domain": false, "ticks": false, "tickSize": 0, "labelAlign": "left", "labelPadding": 188, "labelFontSize": 33, "labelColor": "#1a1a1a"}}, "text": {"field": "n"}}}
]},
{"spacing": 31, "resolve": {"scale": {"color": "independent"}, "legend": {"color": "independent"}}, "vconcat": [
{"width": 713, "height": 474,
"title": {"text": "B", "anchor": "start", "frame": "bounds", "dx": -52, "offset": -34, "fontSize": 44, "fontWeight": "bold", "baseline": "alphabetic"},
"layer": [
{"data": {"name": "refs"}, "mark": {"type": "rule", "strokeDash": [6, 5], "strokeWidth": 3, "color": "#111"}, "encoding": {"x": {"field": "day", "type": "quantitative", "scale": {"domain": [0, 100], "nice": false}, "axis": {"title": "Time Since Intervention (days)", "values": [0, 30, 90], "ticks": false, "tickSize": 0, "labelFlush": false, "labelOverlap": false, "labelFontSize": 40, "labelPadding": 12, "titleFontSize": 45, "titlePadding": 22, "domainWidth": 2.5, "domainColor": "#111"}}}},
{"data": {"name": "curves"}, "transform": [{"filter": "datum.panel === 'B' && datum.group === 'Surgery'"}], "mark": {"type": "line", "interpolate": "linear", "strokeWidth": 7}, "encoding": {"x": {"field": "day", "type": "quantitative", "scale": {"domain": [0, 100], "nice": false}, "axis": {"title": "Time Since Intervention (days)", "values": [0, 30, 90], "ticks": false, "tickSize": 0, "labelFlush": false, "labelOverlap": false, "labelFontSize": 40, "labelPadding": 12, "titleFontSize": 45, "titlePadding": 22, "domainWidth": 2.5, "domainColor": "#111"}}, "y": {"field": "pct", "type": "quantitative", "scale": {"domain": [0, 10.1], "nice": false}, "axis": {"title": "Cumulative Mortality (%)", "values": [0.2,0.4,0.6,0.8,1,1.2,1.4,1.6,1.8,2,2.2,2.4,2.6,2.8,3,3.2,3.4,3.6,3.8,4,4.2,4.4,4.6,4.8,5,5.2,5.4,5.6,5.8,6,6.2,6.4,6.6,6.8,7,7.2,7.4,7.6,7.8,8,8.2,8.4,8.6,8.8,9,9.2,9.4,9.6,9.8,10], "labelExpr": "datum.value >= 0.99 && abs(datum.value - round(datum.value)) < 0.01 ? format(datum.value, 'd') : ''", "tickSize": {"condition": {"test": "abs(datum.value - round(datum.value)) < 0.01", "value": 15}, "value": 8}, "tickWidth": 2, "tickColor": "#111", "domainWidth": 3, "domainColor": "#111", "labelOverlap": false, "labelFontSize": 40, "labelPadding": 3, "titleFontSize": 46, "titlePadding": 18}}, "color": {"field": "group", "type": "nominal", "scale": {"domain": ["Surgery", "SBRT"], "range": ["#1b77bd", "#e5b714"]}, "legend": {"orient": "none", "legendX": 425, "legendY": 33, "title": null, "symbolType": "stroke", "symbolSize": 3844, "symbolStrokeWidth": 7, "labelFontSize": 33, "labelOffset": 10, "rowPadding": -3, "padding": 0, "labelColor": "#1a1a1a"}}}},
{"data": {"name": "curves"}, "transform": [{"filter": "datum.panel === 'B' && datum.group === 'SBRT'"}], "mark": {"type": "line", "interpolate": "step-after", "strokeWidth": 7}, "encoding": {"x": {"field": "day", "type": "quantitative", "scale": {"domain": [0, 100], "nice": false}, "axis": {"title": "Time Since Intervention (days)", "values": [0, 30, 90], "ticks": false, "tickSize": 0, "labelFlush": false, "labelOverlap": false, "labelFontSize": 40, "labelPadding": 12, "titleFontSize": 45, "titlePadding": 22, "domainWidth": 2.5, "domainColor": "#111"}}, "y": {"field": "pct", "type": "quantitative", "scale": {"domain": [0, 10.1], "nice": false}, "axis": {"title": "Cumulative Mortality (%)", "values": [0.2,0.4,0.6,0.8,1,1.2,1.4,1.6,1.8,2,2.2,2.4,2.6,2.8,3,3.2,3.4,3.6,3.8,4,4.2,4.4,4.6,4.8,5,5.2,5.4,5.6,5.8,6,6.2,6.4,6.6,6.8,7,7.2,7.4,7.6,7.8,8,8.2,8.4,8.6,8.8,9,9.2,9.4,9.6,9.8,10], "labelExpr": "datum.value >= 0.99 && abs(datum.value - round(datum.value)) < 0.01 ? format(datum.value, 'd') : ''", "tickSize": {"condition": {"test": "abs(datum.value - round(datum.value)) < 0.01", "value": 15}, "value": 8}, "tickWidth": 2, "tickColor": "#111", "domainWidth": 3, "domainColor": "#111", "labelOverlap": false, "labelFontSize": 40, "labelPadding": 3, "titleFontSize": 46, "titlePadding": 18}}, "color": {"field": "group", "type": "nominal", "scale": {"domain": ["Surgery", "SBRT"], "range": ["#1b77bd", "#e5b714"]}, "legend": {"orient": "none", "legendX": 425, "legendY": 33, "title": null, "symbolType": "stroke", "symbolSize": 3844, "symbolStrokeWidth": 7, "labelFontSize": 33, "labelOffset": 10, "rowPadding": -3, "padding": 0, "labelColor": "#1a1a1a"}}}},
{"data": {"name": "panels"}, "transform": [{"filter": "datum.panel === 'B'"}], "mark": {"type": "text", "fontSize": 42, "fontWeight": "bold", "baseline": "middle", "color": "#111"}, "encoding": {"x": {"datum": 50, "type": "quantitative", "scale": {"domain": [0, 100], "nice": false}, "axis": {"title": "Time Since Intervention (days)", "values": [0, 30, 90], "ticks": false, "tickSize": 0, "labelFlush": false, "labelOverlap": false, "labelFontSize": 40, "labelPadding": 12, "titleFontSize": 45, "titlePadding": 22, "domainWidth": 2.5, "domainColor": "#111"}}, "y": {"datum": 9.93, "type": "quantitative", "scale": {"domain": [0, 10.1], "nice": false}, "axis": {"title": "Cumulative Mortality (%)", "values": [0.2,0.4,0.6,0.8,1,1.2,1.4,1.6,1.8,2,2.2,2.4,2.6,2.8,3,3.2,3.4,3.6,3.8,4,4.2,4.4,4.6,4.8,5,5.2,5.4,5.6,5.8,6,6.2,6.4,6.6,6.8,7,7.2,7.4,7.6,7.8,8,8.2,8.4,8.6,8.8,9,9.2,9.4,9.6,9.8,10], "labelExpr": "datum.value >= 0.99 && abs(datum.value - round(datum.value)) < 0.01 ? format(datum.value, 'd') : ''", "tickSize": {"condition": {"test": "abs(datum.value - round(datum.value)) < 0.01", "value": 15}, "value": 8}, "tickWidth": 2, "tickColor": "#111", "domainWidth": 3, "domainColor": "#111", "labelOverlap": false, "labelFontSize": 40, "labelPadding": 3, "titleFontSize": 46, "titlePadding": 18}}, "text": {"field": "label"}}},
{"data": {"name": "panels"}, "transform": [{"filter": "datum.panel === 'B'"}], "mark": {"type": "text", "fontSize": 35, "align": "right", "baseline": "middle", "dx": -12, "color": "#111"}, "encoding": {"x": {"datum": 90, "type": "quantitative", "scale": {"domain": [0, 100], "nice": false}, "axis": {"title": "Time Since Intervention (days)", "values": [0, 30, 90], "ticks": false, "tickSize": 0, "labelFlush": false, "labelOverlap": false, "labelFontSize": 40, "labelPadding": 12, "titleFontSize": 45, "titlePadding": 22, "domainWidth": 2.5, "domainColor": "#111"}}, "y": {"datum": 0.65, "type": "quantitative", "scale": {"domain": [0, 10.1], "nice": false}, "axis": {"title": "Cumulative Mortality (%)", "values": [0.2,0.4,0.6,0.8,1,1.2,1.4,1.6,1.8,2,2.2,2.4,2.6,2.8,3,3.2,3.4,3.6,3.8,4,4.2,4.4,4.6,4.8,5,5.2,5.4,5.6,5.8,6,6.2,6.4,6.6,6.8,7,7.2,7.4,7.6,7.8,8,8.2,8.4,8.6,8.8,9,9.2,9.4,9.6,9.8,10], "labelExpr": "datum.value >= 0.99 && abs(datum.value - round(datum.value)) < 0.01 ? format(datum.value, 'd') : ''", "tickSize": {"condition": {"test": "abs(datum.value - round(datum.value)) < 0.01", "value": 15}, "value": 8}, "tickWidth": 2, "tickColor": "#111", "domainWidth": 3, "domainColor": "#111", "labelOverlap": false, "labelFontSize": 40, "labelPadding": 3, "titleFontSize": 46, "titlePadding": 18}}, "text": {"field": "pval"}}},
{"data": {"name": "panels"}, "transform": [{"filter": "datum.panel === 'B'"}], "mark": {"type": "text", "fontSize": 35, "fontStyle": "italic", "align": "right", "baseline": "middle", "dx": -120, "color": "#111"}, "encoding": {"x": {"datum": 90, "type": "quantitative", "scale": {"domain": [0, 100], "nice": false}, "axis": {"title": "Time Since Intervention (days)", "values": [0, 30, 90], "ticks": false, "tickSize": 0, "labelFlush": false, "labelOverlap": false, "labelFontSize": 40, "labelPadding": 12, "titleFontSize": 45, "titlePadding": 22, "domainWidth": 2.5, "domainColor": "#111"}}, "y": {"datum": 0.65, "type": "quantitative", "scale": {"domain": [0, 10.1], "nice": false}, "axis": {"title": "Cumulative Mortality (%)", "values": [0.2,0.4,0.6,0.8,1,1.2,1.4,1.6,1.8,2,2.2,2.4,2.6,2.8,3,3.2,3.4,3.6,3.8,4,4.2,4.4,4.6,4.8,5,5.2,5.4,5.6,5.8,6,6.2,6.4,6.6,6.8,7,7.2,7.4,7.6,7.8,8,8.2,8.4,8.6,8.8,9,9.2,9.4,9.6,9.8,10], "labelExpr": "datum.value >= 0.99 && abs(datum.value - round(datum.value)) < 0.01 ? format(datum.value, 'd') : ''", "tickSize": {"condition": {"test": "abs(datum.value - round(datum.value)) < 0.01", "value": 15}, "value": 8}, "tickWidth": 2, "tickColor": "#111", "domainWidth": 3, "domainColor": "#111", "labelOverlap": false, "labelFontSize": 40, "labelPadding": 3, "titleFontSize": 46, "titlePadding": 18}}, "text": {"value": "P"}}}
]},
{"width": 713, "height": 150, "data": {"name": "risk"}, "transform": [{"filter": "datum.panel === 'B'"}], "mark": {"type": "text", "fontSize": 33, "color": "#1a1a1a"},
"encoding": {"x": {"field": "day", "type": "quantitative", "scale": {"domain": [0, 100], "nice": false}, "axis": null}, "y": {"field": "group", "type": "nominal", "scale": {"domain": ["No. at risk:", "Surgery", "SBRT"]}, "axis": {"title": null, "domain": false, "ticks": false, "tickSize": 0, "labelAlign": "left", "labelPadding": 188, "labelFontSize": 33, "labelColor": "#1a1a1a"}}, "text": {"field": "n"}}}
]}
]},
{"spacing": 59, "resolve": {"scale": {"color": "independent"}, "legend": {"color": "independent"}}, "hconcat": [
{"spacing": 31, "resolve": {"scale": {"color": "independent"}, "legend": {"color": "independent"}}, "vconcat": [
{"width": 713, "height": 474,
"title": {"text": "E", "anchor": "start", "frame": "bounds", "dx": -52, "offset": -34, "fontSize": 44, "fontWeight": "bold", "baseline": "alphabetic"},
"layer": [
{"data": {"name": "refs"}, "mark": {"type": "rule", "strokeDash": [6, 5], "strokeWidth": 3, "color": "#111"}, "encoding": {"x": {"field": "day", "type": "quantitative", "scale": {"domain": [0, 100], "nice": false}, "axis": {"title": "Time Since Intervention (days)", "values": [0, 30, 90], "ticks": false, "tickSize": 0, "labelFlush": false, "labelOverlap": false, "labelFontSize": 40, "labelPadding": 12, "titleFontSize": 45, "titlePadding": 22, "domainWidth": 2.5, "domainColor": "#111"}}}},
{"data": {"name": "curves"}, "transform": [{"filter": "datum.panel === 'E' && datum.group === 'Surgery'"}], "mark": {"type": "line", "interpolate": "linear", "strokeWidth": 7}, "encoding": {"x": {"field": "day", "type": "quantitative", "scale": {"domain": [0, 100], "nice": false}, "axis": {"title": "Time Since Intervention (days)", "values": [0, 30, 90], "ticks": false, "tickSize": 0, "labelFlush": false, "labelOverlap": false, "labelFontSize": 40, "labelPadding": 12, "titleFontSize": 45, "titlePadding": 22, "domainWidth": 2.5, "domainColor": "#111"}}, "y": {"field": "pct", "type": "quantitative", "scale": {"domain": [0, 10.1], "nice": false}, "axis": {"title": "Cumulative Mortality (%)", "values": [0.2,0.4,0.6,0.8,1,1.2,1.4,1.6,1.8,2,2.2,2.4,2.6,2.8,3,3.2,3.4,3.6,3.8,4,4.2,4.4,4.6,4.8,5,5.2,5.4,5.6,5.8,6,6.2,6.4,6.6,6.8,7,7.2,7.4,7.6,7.8,8,8.2,8.4,8.6,8.8,9,9.2,9.4,9.6,9.8,10], "labelExpr": "datum.value >= 0.99 && abs(datum.value - round(datum.value)) < 0.01 ? format(datum.value, 'd') : ''", "tickSize": {"condition": {"test": "abs(datum.value - round(datum.value)) < 0.01", "value": 15}, "value": 8}, "tickWidth": 2, "tickColor": "#111", "domainWidth": 3, "domainColor": "#111", "labelOverlap": false, "labelFontSize": 40, "labelPadding": 3, "titleFontSize": 46, "titlePadding": 18}}, "color": {"field": "group", "type": "nominal", "scale": {"domain": ["Surgery", "SBRT"], "range": ["#1b77bd", "#e5b714"]}, "legend": {"orient": "none", "legendX": 425, "legendY": 33, "title": null, "symbolType": "stroke", "symbolSize": 3844, "symbolStrokeWidth": 7, "labelFontSize": 33, "labelOffset": 10, "rowPadding": -3, "padding": 0, "labelColor": "#1a1a1a"}}}},
{"data": {"name": "curves"}, "transform": [{"filter": "datum.panel === 'E' && datum.group === 'SBRT'"}], "mark": {"type": "line", "interpolate": "step-after", "strokeWidth": 7}, "encoding": {"x": {"field": "day", "type": "quantitative", "scale": {"domain": [0, 100], "nice": false}, "axis": {"title": "Time Since Intervention (days)", "values": [0, 30, 90], "ticks": false, "tickSize": 0, "labelFlush": false, "labelOverlap": false, "labelFontSize": 40, "labelPadding": 12, "titleFontSize": 45, "titlePadding": 22, "domainWidth": 2.5, "domainColor": "#111"}}, "y": {"field": "pct", "type": "quantitative", "scale": {"domain": [0, 10.1], "nice": false}, "axis": {"title": "Cumulative Mortality (%)", "values": [0.2,0.4,0.6,0.8,1,1.2,1.4,1.6,1.8,2,2.2,2.4,2.6,2.8,3,3.2,3.4,3.6,3.8,4,4.2,4.4,4.6,4.8,5,5.2,5.4,5.6,5.8,6,6.2,6.4,6.6,6.8,7,7.2,7.4,7.6,7.8,8,8.2,8.4,8.6,8.8,9,9.2,9.4,9.6,9.8,10], "labelExpr": "datum.value >= 0.99 && abs(datum.value - round(datum.value)) < 0.01 ? format(datum.value, 'd') : ''", "tickSize": {"condition": {"test": "abs(datum.value - round(datum.value)) < 0.01", "value": 15}, "value": 8}, "tickWidth": 2, "tickColor": "#111", "domainWidth": 3, "domainColor": "#111", "labelOverlap": false, "labelFontSize": 40, "labelPadding": 3, "titleFontSize": 46, "titlePadding": 18}}, "color": {"field": "group", "type": "nominal", "scale": {"domain": ["Surgery", "SBRT"], "range": ["#1b77bd", "#e5b714"]}, "legend": {"orient": "none", "legendX": 425, "legendY": 33, "title": null, "symbolType": "stroke", "symbolSize": 3844, "symbolStrokeWidth": 7, "labelFontSize": 33, "labelOffset": 10, "rowPadding": -3, "padding": 0, "labelColor": "#1a1a1a"}}}},
{"data": {"name": "panels"}, "transform": [{"filter": "datum.panel === 'E'"}], "mark": {"type": "text", "fontSize": 42, "fontWeight": "bold", "baseline": "middle", "color": "#111"}, "encoding": {"x": {"datum": 50, "type": "quantitative", "scale": {"domain": [0, 100], "nice": false}, "axis": {"title": "Time Since Intervention (days)", "values": [0, 30, 90], "ticks": false, "tickSize": 0, "labelFlush": false, "labelOverlap": false, "labelFontSize": 40, "labelPadding": 12, "titleFontSize": 45, "titlePadding": 22, "domainWidth": 2.5, "domainColor": "#111"}}, "y": {"datum": 9.93, "type": "quantitative", "scale": {"domain": [0, 10.1], "nice": false}, "axis": {"title": "Cumulative Mortality (%)", "values": [0.2,0.4,0.6,0.8,1,1.2,1.4,1.6,1.8,2,2.2,2.4,2.6,2.8,3,3.2,3.4,3.6,3.8,4,4.2,4.4,4.6,4.8,5,5.2,5.4,5.6,5.8,6,6.2,6.4,6.6,6.8,7,7.2,7.4,7.6,7.8,8,8.2,8.4,8.6,8.8,9,9.2,9.4,9.6,9.8,10], "labelExpr": "datum.value >= 0.99 && abs(datum.value - round(datum.value)) < 0.01 ? format(datum.value, 'd') : ''", "tickSize": {"condition": {"test": "abs(datum.value - round(datum.value)) < 0.01", "value": 15}, "value": 8}, "tickWidth": 2, "tickColor": "#111", "domainWidth": 3, "domainColor": "#111", "labelOverlap": false, "labelFontSize": 40, "labelPadding": 3, "titleFontSize": 46, "titlePadding": 18}}, "text": {"field": "label"}}},
{"data": {"name": "panels"}, "transform": [{"filter": "datum.panel === 'E'"}], "mark": {"type": "text", "fontSize": 35, "align": "right", "baseline": "middle", "dx": -12, "color": "#111"}, "encoding": {"x": {"datum": 90, "type": "quantitative", "scale": {"domain": [0, 100], "nice": false}, "axis": {"title": "Time Since Intervention (days)", "values": [0, 30, 90], "ticks": false, "tickSize": 0, "labelFlush": false, "labelOverlap": false, "labelFontSize": 40, "labelPadding": 12, "titleFontSize": 45, "titlePadding": 22, "domainWidth": 2.5, "domainColor": "#111"}}, "y": {"datum": 0.65, "type": "quantitative", "scale": {"domain": [0, 10.1], "nice": false}, "axis": {"title": "Cumulative Mortality (%)", "values": [0.2,0.4,0.6,0.8,1,1.2,1.4,1.6,1.8,2,2.2,2.4,2.6,2.8,3,3.2,3.4,3.6,3.8,4,4.2,4.4,4.6,4.8,5,5.2,5.4,5.6,5.8,6,6.2,6.4,6.6,6.8,7,7.2,7.4,7.6,7.8,8,8.2,8.4,8.6,8.8,9,9.2,9.4,9.6,9.8,10], "labelExpr": "datum.value >= 0.99 && abs(datum.value - round(datum.value)) < 0.01 ? format(datum.value, 'd') : ''", "tickSize": {"condition": {"test": "abs(datum.value - round(datum.value)) < 0.01", "value": 15}, "value": 8}, "tickWidth": 2, "tickColor": "#111", "domainWidth": 3, "domainColor": "#111", "labelOverlap": false, "labelFontSize": 40, "labelPadding": 3, "titleFontSize": 46, "titlePadding": 18}}, "text": {"field": "pval"}}},
{"data": {"name": "panels"}, "transform": [{"filter": "datum.panel === 'E'"}], "mark": {"type": "text", "fontSize": 35, "fontStyle": "italic", "align": "right", "baseline": "middle", "dx": -120, "color": "#111"}, "encoding": {"x": {"datum": 90, "type": "quantitative", "scale": {"domain": [0, 100], "nice": false}, "axis": {"title": "Time Since Intervention (days)", "values": [0, 30, 90], "ticks": false, "tickSize": 0, "labelFlush": false, "labelOverlap": false, "labelFontSize": 40, "labelPadding": 12, "titleFontSize": 45, "titlePadding": 22, "domainWidth": 2.5, "domainColor": "#111"}}, "y": {"datum": 0.65, "type": "quantitative", "scale": {"domain": [0, 10.1], "nice": false}, "axis": {"title": "Cumulative Mortality (%)", "values": [0.2,0.4,0.6,0.8,1,1.2,1.4,1.6,1.8,2,2.2,2.4,2.6,2.8,3,3.2,3.4,3.6,3.8,4,4.2,4.4,4.6,4.8,5,5.2,5.4,5.6,5.8,6,6.2,6.4,6.6,6.8,7,7.2,7.4,7.6,7.8,8,8.2,8.4,8.6,8.8,9,9.2,9.4,9.6,9.8,10], "labelExpr": "datum.value >= 0.99 && abs(datum.value - round(datum.value)) < 0.01 ? format(datum.value, 'd') : ''", "tickSize": {"condition": {"test": "abs(datum.value - round(datum.value)) < 0.01", "value": 15}, "value": 8}, "tickWidth": 2, "tickColor": "#111", "domainWidth": 3, "domainColor": "#111", "labelOverlap": false, "labelFontSize": 40, "labelPadding": 3, "titleFontSize": 46, "titlePadding": 18}}, "text": {"value": "P"}}}
]},
{"width": 713, "height": 150, "data": {"name": "risk"}, "transform": [{"filter": "datum.panel === 'E'"}], "mark": {"type": "text", "fontSize": 33, "color": "#1a1a1a"},
"encoding": {"x": {"field": "day", "type": "quantitative", "scale": {"domain": [0, 100], "nice": false}, "axis": null}, "y": {"field": "group", "type": "nominal", "scale": {"domain": ["No. at risk:", "Surgery", "SBRT"]}, "axis": {"title": null, "domain": false, "ticks": false, "tickSize": 0, "labelAlign": "left", "labelPadding": 188, "labelFontSize": 33, "labelColor": "#1a1a1a"}}, "text": {"field": "n"}}}
]},
{"spacing": 31, "resolve": {"scale": {"color": "independent"}, "legend": {"color": "independent"}}, "vconcat": [
{"width": 713, "height": 474,
"title": {"text": "F", "anchor": "start", "frame": "bounds", "dx": -52, "offset": -34, "fontSize": 44, "fontWeight": "bold", "baseline": "alphabetic"},
"layer": [
{"data": {"name": "refs"}, "mark": {"type": "rule", "strokeDash": [6, 5], "strokeWidth": 3, "color": "#111"}, "encoding": {"x": {"field": "day", "type": "quantitative", "scale": {"domain": [0, 100], "nice": false}, "axis": {"title": "Time Since Intervention (days)", "values": [0, 30, 90], "ticks": false, "tickSize": 0, "labelFlush": false, "labelOverlap": false, "labelFontSize": 40, "labelPadding": 12, "titleFontSize": 45, "titlePadding": 22, "domainWidth": 2.5, "domainColor": "#111"}}}},
{"data": {"name": "curves"}, "transform": [{"filter": "datum.panel === 'F' && datum.group === 'Surgery'"}], "mark": {"type": "line", "interpolate": "linear", "strokeWidth": 7}, "encoding": {"x": {"field": "day", "type": "quantitative", "scale": {"domain": [0, 100], "nice": false}, "axis": {"title": "Time Since Intervention (days)", "values": [0, 30, 90], "ticks": false, "tickSize": 0, "labelFlush": false, "labelOverlap": false, "labelFontSize": 40, "labelPadding": 12, "titleFontSize": 45, "titlePadding": 22, "domainWidth": 2.5, "domainColor": "#111"}}, "y": {"field": "pct", "type": "quantitative", "scale": {"domain": [0, 10.1], "nice": false}, "axis": {"title": "Cumulative Mortality (%)", "values": [0.2,0.4,0.6,0.8,1,1.2,1.4,1.6,1.8,2,2.2,2.4,2.6,2.8,3,3.2,3.4,3.6,3.8,4,4.2,4.4,4.6,4.8,5,5.2,5.4,5.6,5.8,6,6.2,6.4,6.6,6.8,7,7.2,7.4,7.6,7.8,8,8.2,8.4,8.6,8.8,9,9.2,9.4,9.6,9.8,10], "labelExpr": "datum.value >= 0.99 && abs(datum.value - round(datum.value)) < 0.01 ? format(datum.value, 'd') : ''", "tickSize": {"condition": {"test": "abs(datum.value - round(datum.value)) < 0.01", "value": 15}, "value": 8}, "tickWidth": 2, "tickColor": "#111", "domainWidth": 3, "domainColor": "#111", "labelOverlap": false, "labelFontSize": 40, "labelPadding": 3, "titleFontSize": 46, "titlePadding": 18}}, "color": {"field": "group", "type": "nominal", "scale": {"domain": ["Surgery", "SBRT"], "range": ["#1b77bd", "#e5b714"]}, "legend": {"orient": "none", "legendX": 425, "legendY": 33, "title": null, "symbolType": "stroke", "symbolSize": 3844, "symbolStrokeWidth": 7, "labelFontSize": 33, "labelOffset": 10, "rowPadding": -3, "padding": 0, "labelColor": "#1a1a1a"}}}},
{"data": {"name": "curves"}, "transform": [{"filter": "datum.panel === 'F' && datum.group === 'SBRT'"}], "mark": {"type": "line", "interpolate": "step-after", "strokeWidth": 7}, "encoding": {"x": {"field": "day", "type": "quantitative", "scale": {"domain": [0, 100], "nice": false}, "axis": {"title": "Time Since Intervention (days)", "values": [0, 30, 90], "ticks": false, "tickSize": 0, "labelFlush": false, "labelOverlap": false, "labelFontSize": 40, "labelPadding": 12, "titleFontSize": 45, "titlePadding": 22, "domainWidth": 2.5, "domainColor": "#111"}}, "y": {"field": "pct", "type": "quantitative", "scale": {"domain": [0, 10.1], "nice": false}, "axis": {"title": "Cumulative Mortality (%)", "values": [0.2,0.4,0.6,0.8,1,1.2,1.4,1.6,1.8,2,2.2,2.4,2.6,2.8,3,3.2,3.4,3.6,3.8,4,4.2,4.4,4.6,4.8,5,5.2,5.4,5.6,5.8,6,6.2,6.4,6.6,6.8,7,7.2,7.4,7.6,7.8,8,8.2,8.4,8.6,8.8,9,9.2,9.4,9.6,9.8,10], "labelExpr": "datum.value >= 0.99 && abs(datum.value - round(datum.value)) < 0.01 ? format(datum.value, 'd') : ''", "tickSize": {"condition": {"test": "abs(datum.value - round(datum.value)) < 0.01", "value": 15}, "value": 8}, "tickWidth": 2, "tickColor": "#111", "domainWidth": 3, "domainColor": "#111", "labelOverlap": false, "labelFontSize": 40, "labelPadding": 3, "titleFontSize": 46, "titlePadding": 18}}, "color": {"field": "group", "type": "nominal", "scale": {"domain": ["Surgery", "SBRT"], "range": ["#1b77bd", "#e5b714"]}, "legend": {"orient": "none", "legendX": 425, "legendY": 33, "title": null, "symbolType": "stroke", "symbolSize": 3844, "symbolStrokeWidth": 7, "labelFontSize": 33, "labelOffset": 10, "rowPadding": -3, "padding": 0, "labelColor": "#1a1a1a"}}}},
{"data": {"name": "panels"}, "transform": [{"filter": "datum.panel === 'F'"}], "mark": {"type": "text", "fontSize": 42, "fontWeight": "bold", "baseline": "middle", "color": "#111"}, "encoding": {"x": {"datum": 50, "type": "quantitative", "scale": {"domain": [0, 100], "nice": false}, "axis": {"title": "Time Since Intervention (days)", "values": [0, 30, 90], "ticks": false, "tickSize": 0, "labelFlush": false, "labelOverlap": false, "labelFontSize": 40, "labelPadding": 12, "titleFontSize": 45, "titlePadding": 22, "domainWidth": 2.5, "domainColor": "#111"}}, "y": {"datum": 9.93, "type": "quantitative", "scale": {"domain": [0, 10.1], "nice": false}, "axis": {"title": "Cumulative Mortality (%)", "values": [0.2,0.4,0.6,0.8,1,1.2,1.4,1.6,1.8,2,2.2,2.4,2.6,2.8,3,3.2,3.4,3.6,3.8,4,4.2,4.4,4.6,4.8,5,5.2,5.4,5.6,5.8,6,6.2,6.4,6.6,6.8,7,7.2,7.4,7.6,7.8,8,8.2,8.4,8.6,8.8,9,9.2,9.4,9.6,9.8,10], "labelExpr": "datum.value >= 0.99 && abs(datum.value - round(datum.value)) < 0.01 ? format(datum.value, 'd') : ''", "tickSize": {"condition": {"test": "abs(datum.value - round(datum.value)) < 0.01", "value": 15}, "value": 8}, "tickWidth": 2, "tickColor": "#111", "domainWidth": 3, "domainColor": "#111", "labelOverlap": false, "labelFontSize": 40, "labelPadding": 3, "titleFontSize": 46, "titlePadding": 18}}, "text": {"field": "label"}}},
{"data": {"name": "panels"}, "transform": [{"filter": "datum.panel === 'F'"}], "mark": {"type": "text", "fontSize": 35, "align": "right", "baseline": "middle", "dx": -12, "color": "#111"}, "encoding": {"x": {"datum": 90, "type": "quantitative", "scale": {"domain": [0, 100], "nice": false}, "axis": {"title": "Time Since Intervention (days)", "values": [0, 30, 90], "ticks": false, "tickSize": 0, "labelFlush": false, "labelOverlap": false, "labelFontSize": 40, "labelPadding": 12, "titleFontSize": 45, "titlePadding": 22, "domainWidth": 2.5, "domainColor": "#111"}}, "y": {"datum": 0.65, "type": "quantitative", "scale": {"domain": [0, 10.1], "nice": false}, "axis": {"title": "Cumulative Mortality (%)", "values": [0.2,0.4,0.6,0.8,1,1.2,1.4,1.6,1.8,2,2.2,2.4,2.6,2.8,3,3.2,3.4,3.6,3.8,4,4.2,4.4,4.6,4.8,5,5.2,5.4,5.6,5.8,6,6.2,6.4,6.6,6.8,7,7.2,7.4,7.6,7.8,8,8.2,8.4,8.6,8.8,9,9.2,9.4,9.6,9.8,10], "labelExpr": "datum.value >= 0.99 && abs(datum.value - round(datum.value)) < 0.01 ? format(datum.value, 'd') : ''", "tickSize": {"condition": {"test": "abs(datum.value - round(datum.value)) < 0.01", "value": 15}, "value": 8}, "tickWidth": 2, "tickColor": "#111", "domainWidth": 3, "domainColor": "#111", "labelOverlap": false, "labelFontSize": 40, "labelPadding": 3, "titleFontSize": 46, "titlePadding": 18}}, "text": {"field": "pval"}}},
{"data": {"name": "panels"}, "transform": [{"filter": "datum.panel === 'F'"}], "mark": {"type": "text", "fontSize": 35, "fontStyle": "italic", "align": "right", "baseline": "middle", "dx": -120, "color": "#111"}, "encoding": {"x": {"datum": 90, "type": "quantitative", "scale": {"domain": [0, 100], "nice": false}, "axis": {"title": "Time Since Intervention (days)", "values": [0, 30, 90], "ticks": false, "tickSize": 0, "labelFlush": false, "labelOverlap": false, "labelFontSize": 40, "labelPadding": 12, "titleFontSize": 45, "titlePadding": 22, "domainWidth": 2.5, "domainColor": "#111"}}, "y": {"datum": 0.65, "type": "quantitative", "scale": {"domain": [0, 10.1], "nice": false}, "axis": {"title": "Cumulative Mortality (%)", "values": [0.2,0.4,0.6,0.8,1,1.2,1.4,1.6,1.8,2,2.2,2.4,2.6,2.8,3,3.2,3.4,3.6,3.8,4,4.2,4.4,4.6,4.8,5,5.2,5.4,5.6,5.8,6,6.2,6.4,6.6,6.8,7,7.2,7.4,7.6,7.8,8,8.2,8.4,8.6,8.8,9,9.2,9.4,9.6,9.8,10], "labelExpr": "datum.value >= 0.99 && abs(datum.value - round(datum.value)) < 0.01 ? format(datum.value, 'd') : ''", "tickSize": {"condition": {"test": "abs(datum.value - round(datum.value)) < 0.01", "value": 15}, "value": 8}, "tickWidth": 2, "tickColor": "#111", "domainWidth": 3, "domainColor": "#111", "labelOverlap": false, "labelFontSize": 40, "labelPadding": 3, "titleFontSize": 46, "titlePadding": 18}}, "text": {"value": "P"}}}
]},
{"width": 713, "height": 150, "data": {"name": "risk"}, "transform": [{"filter": "datum.panel === 'F'"}], "mark": {"type": "text", "fontSize": 33, "color": "#1a1a1a"},
"encoding": {"x": {"field": "day", "type": "quantitative", "scale": {"domain": [0, 100], "nice": false}, "axis": null}, "y": {"field": "group", "type": "nominal", "scale": {"domain": ["No. at risk:", "Surgery", "SBRT"]}, "axis": {"title": null, "domain": false, "ticks": false, "tickSize": 0, "labelAlign": "left", "labelPadding": 188, "labelFontSize": 33, "labelColor": "#1a1a1a"}}, "text": {"field": "n"}}}
]}
]}
]},
{"spacing": 46, "resolve": {"scale": {"color": "independent"}, "legend": {"color": "independent"}}, "hconcat": [
{"spacing": 59, "resolve": {"scale": {"color": "independent"}, "legend": {"color": "independent"}}, "hconcat": [
{"spacing": 31, "resolve": {"scale": {"color": "independent"}, "legend": {"color": "independent"}}, "vconcat": [
{"width": 713, "height": 474,
"title": {"text": "C", "anchor": "start", "frame": "bounds", "dx": -52, "offset": -34, "fontSize": 44, "fontWeight": "bold", "baseline": "alphabetic"},
"layer": [
{"data": {"name": "refs"}, "mark": {"type": "rule", "strokeDash": [6, 5], "strokeWidth": 3, "color": "#111"}, "encoding": {"x": {"field": "day", "type": "quantitative", "scale": {"domain": [0, 100], "nice": false}, "axis": {"title": "Time Since Intervention (days)", "values": [0, 30, 90], "ticks": false, "tickSize": 0, "labelFlush": false, "labelOverlap": false, "labelFontSize": 40, "labelPadding": 12, "titleFontSize": 45, "titlePadding": 22, "domainWidth": 2.5, "domainColor": "#111"}}}},
{"data": {"name": "curves"}, "transform": [{"filter": "datum.panel === 'C' && datum.group === 'Surgery'"}], "mark": {"type": "line", "interpolate": "linear", "strokeWidth": 7}, "encoding": {"x": {"field": "day", "type": "quantitative", "scale": {"domain": [0, 100], "nice": false}, "axis": {"title": "Time Since Intervention (days)", "values": [0, 30, 90], "ticks": false, "tickSize": 0, "labelFlush": false, "labelOverlap": false, "labelFontSize": 40, "labelPadding": 12, "titleFontSize": 45, "titlePadding": 22, "domainWidth": 2.5, "domainColor": "#111"}}, "y": {"field": "pct", "type": "quantitative", "scale": {"domain": [0, 10.1], "nice": false}, "axis": {"title": "Cumulative Mortality (%)", "values": [0.2,0.4,0.6,0.8,1,1.2,1.4,1.6,1.8,2,2.2,2.4,2.6,2.8,3,3.2,3.4,3.6,3.8,4,4.2,4.4,4.6,4.8,5,5.2,5.4,5.6,5.8,6,6.2,6.4,6.6,6.8,7,7.2,7.4,7.6,7.8,8,8.2,8.4,8.6,8.8,9,9.2,9.4,9.6,9.8,10], "labelExpr": "datum.value >= 0.99 && abs(datum.value - round(datum.value)) < 0.01 ? format(datum.value, 'd') : ''", "tickSize": {"condition": {"test": "abs(datum.value - round(datum.value)) < 0.01", "value": 15}, "value": 8}, "tickWidth": 2, "tickColor": "#111", "domainWidth": 3, "domainColor": "#111", "labelOverlap": false, "labelFontSize": 40, "labelPadding": 3, "titleFontSize": 46, "titlePadding": 18}}, "color": {"field": "group", "type": "nominal", "scale": {"domain": ["Surgery", "SBRT"], "range": ["#1b77bd", "#e5b714"]}, "legend": {"orient": "none", "legendX": 425, "legendY": 33, "title": null, "symbolType": "stroke", "symbolSize": 3844, "symbolStrokeWidth": 7, "labelFontSize": 33, "labelOffset": 10, "rowPadding": -3, "padding": 0, "labelColor": "#1a1a1a"}}}},
{"data": {"name": "curves"}, "transform": [{"filter": "datum.panel === 'C' && datum.group === 'SBRT'"}], "mark": {"type": "line", "interpolate": "step-after", "strokeWidth": 7}, "encoding": {"x": {"field": "day", "type": "quantitative", "scale": {"domain": [0, 100], "nice": false}, "axis": {"title": "Time Since Intervention (days)", "values": [0, 30, 90], "ticks": false, "tickSize": 0, "labelFlush": false, "labelOverlap": false, "labelFontSize": 40, "labelPadding": 12, "titleFontSize": 45, "titlePadding": 22, "domainWidth": 2.5, "domainColor": "#111"}}, "y": {"field": "pct", "type": "quantitative", "scale": {"domain": [0, 10.1], "nice": false}, "axis": {"title": "Cumulative Mortality (%)", "values": [0.2,0.4,0.6,0.8,1,1.2,1.4,1.6,1.8,2,2.2,2.4,2.6,2.8,3,3.2,3.4,3.6,3.8,4,4.2,4.4,4.6,4.8,5,5.2,5.4,5.6,5.8,6,6.2,6.4,6.6,6.8,7,7.2,7.4,7.6,7.8,8,8.2,8.4,8.6,8.8,9,9.2,9.4,9.6,9.8,10], "labelExpr": "datum.value >= 0.99 && abs(datum.value - round(datum.value)) < 0.01 ? format(datum.value, 'd') : ''", "tickSize": {"condition": {"test": "abs(datum.value - round(datum.value)) < 0.01", "value": 15}, "value": 8}, "tickWidth": 2, "tickColor": "#111", "domainWidth": 3, "domainColor": "#111", "labelOverlap": false, "labelFontSize": 40, "labelPadding": 3, "titleFontSize": 46, "titlePadding": 18}}, "color": {"field": "group", "type": "nominal", "scale": {"domain": ["Surgery", "SBRT"], "range": ["#1b77bd", "#e5b714"]}, "legend": {"orient": "none", "legendX": 425, "legendY": 33, "title": null, "symbolType": "stroke", "symbolSize": 3844, "symbolStrokeWidth": 7, "labelFontSize": 33, "labelOffset": 10, "rowPadding": -3, "padding": 0, "labelColor": "#1a1a1a"}}}},
{"data": {"name": "panels"}, "transform": [{"filter": "datum.panel === 'C'"}], "mark": {"type": "text", "fontSize": 42, "fontWeight": "bold", "baseline": "middle", "color": "#111"}, "encoding": {"x": {"datum": 50, "type": "quantitative", "scale": {"domain": [0, 100], "nice": false}, "axis": {"title": "Time Since Intervention (days)", "values": [0, 30, 90], "ticks": false, "tickSize": 0, "labelFlush": false, "labelOverlap": false, "labelFontSize": 40, "labelPadding": 12, "titleFontSize": 45, "titlePadding": 22, "domainWidth": 2.5, "domainColor": "#111"}}, "y": {"datum": 9.93, "type": "quantitative", "scale": {"domain": [0, 10.1], "nice": false}, "axis": {"title": "Cumulative Mortality (%)", "values": [0.2,0.4,0.6,0.8,1,1.2,1.4,1.6,1.8,2,2.2,2.4,2.6,2.8,3,3.2,3.4,3.6,3.8,4,4.2,4.4,4.6,4.8,5,5.2,5.4,5.6,5.8,6,6.2,6.4,6.6,6.8,7,7.2,7.4,7.6,7.8,8,8.2,8.4,8.6,8.8,9,9.2,9.4,9.6,9.8,10], "labelExpr": "datum.value >= 0.99 && abs(datum.value - round(datum.value)) < 0.01 ? format(datum.value, 'd') : ''", "tickSize": {"condition": {"test": "abs(datum.value - round(datum.value)) < 0.01", "value": 15}, "value": 8}, "tickWidth": 2, "tickColor": "#111", "domainWidth": 3, "domainColor": "#111", "labelOverlap": false, "labelFontSize": 40, "labelPadding": 3, "titleFontSize": 46, "titlePadding": 18}}, "text": {"field": "label"}}},
{"data": {"name": "panels"}, "transform": [{"filter": "datum.panel === 'C'"}], "mark": {"type": "text", "fontSize": 35, "align": "right", "baseline": "middle", "dx": -12, "color": "#111"}, "encoding": {"x": {"datum": 90, "type": "quantitative", "scale": {"domain": [0, 100], "nice": false}, "axis": {"title": "Time Since Intervention (days)", "values": [0, 30, 90], "ticks": false, "tickSize": 0, "labelFlush": false, "labelOverlap": false, "labelFontSize": 40, "labelPadding": 12, "titleFontSize": 45, "titlePadding": 22, "domainWidth": 2.5, "domainColor": "#111"}}, "y": {"datum": 0.65, "type": "quantitative", "scale": {"domain": [0, 10.1], "nice": false}, "axis": {"title": "Cumulative Mortality (%)", "values": [0.2,0.4,0.6,0.8,1,1.2,1.4,1.6,1.8,2,2.2,2.4,2.6,2.8,3,3.2,3.4,3.6,3.8,4,4.2,4.4,4.6,4.8,5,5.2,5.4,5.6,5.8,6,6.2,6.4,6.6,6.8,7,7.2,7.4,7.6,7.8,8,8.2,8.4,8.6,8.8,9,9.2,9.4,9.6,9.8,10], "labelExpr": "datum.value >= 0.99 && abs(datum.value - round(datum.value)) < 0.01 ? format(datum.value, 'd') : ''", "tickSize": {"condition": {"test": "abs(datum.value - round(datum.value)) < 0.01", "value": 15}, "value": 8}, "tickWidth": 2, "tickColor": "#111", "domainWidth": 3, "domainColor": "#111", "labelOverlap": false, "labelFontSize": 40, "labelPadding": 3, "titleFontSize": 46, "titlePadding": 18}}, "text": {"field": "pval"}}},
{"data": {"name": "panels"}, "transform": [{"filter": "datum.panel === 'C'"}], "mark": {"type": "text", "fontSize": 35, "fontStyle": "italic", "align": "right", "baseline": "middle", "dx": -120, "color": "#111"}, "encoding": {"x": {"datum": 90, "type": "quantitative", "scale": {"domain": [0, 100], "nice": false}, "axis": {"title": "Time Since Intervention (days)", "values": [0, 30, 90], "ticks": false, "tickSize": 0, "labelFlush": false, "labelOverlap": false, "labelFontSize": 40, "labelPadding": 12, "titleFontSize": 45, "titlePadding": 22, "domainWidth": 2.5, "domainColor": "#111"}}, "y": {"datum": 0.65, "type": "quantitative", "scale": {"domain": [0, 10.1], "nice": false}, "axis": {"title": "Cumulative Mortality (%)", "values": [0.2,0.4,0.6,0.8,1,1.2,1.4,1.6,1.8,2,2.2,2.4,2.6,2.8,3,3.2,3.4,3.6,3.8,4,4.2,4.4,4.6,4.8,5,5.2,5.4,5.6,5.8,6,6.2,6.4,6.6,6.8,7,7.2,7.4,7.6,7.8,8,8.2,8.4,8.6,8.8,9,9.2,9.4,9.6,9.8,10], "labelExpr": "datum.value >= 0.99 && abs(datum.value - round(datum.value)) < 0.01 ? format(datum.value, 'd') : ''", "tickSize": {"condition": {"test": "abs(datum.value - round(datum.value)) < 0.01", "value": 15}, "value": 8}, "tickWidth": 2, "tickColor": "#111", "domainWidth": 3, "domainColor": "#111", "labelOverlap": false, "labelFontSize": 40, "labelPadding": 3, "titleFontSize": 46, "titlePadding": 18}}, "text": {"value": "P"}}}
]},
{"width": 713, "height": 150, "data": {"name": "risk"}, "transform": [{"filter": "datum.panel === 'C'"}], "mark": {"type": "text", "fontSize": 33, "color": "#1a1a1a"},
"encoding": {"x": {"field": "day", "type": "quantitative", "scale": {"domain": [0, 100], "nice": false}, "axis": null}, "y": {"field": "group", "type": "nominal", "scale": {"domain": ["No. at risk:", "Surgery", "SBRT"]}, "axis": {"title": null, "domain": false, "ticks": false, "tickSize": 0, "labelAlign": "left", "labelPadding": 188, "labelFontSize": 33, "labelColor": "#1a1a1a"}}, "text": {"field": "n"}}}
]},
{"spacing": 31, "resolve": {"scale": {"color": "independent"}, "legend": {"color": "independent"}}, "vconcat": [
{"width": 713, "height": 474,
"title": {"text": "D", "anchor": "start", "frame": "bounds", "dx": -52, "offset": -34, "fontSize": 44, "fontWeight": "bold", "baseline": "alphabetic"},
"layer": [
{"data": {"name": "refs"}, "mark": {"type": "rule", "strokeDash": [6, 5], "strokeWidth": 3, "color": "#111"}, "encoding": {"x": {"field": "day", "type": "quantitative", "scale": {"domain": [0, 100], "nice": false}, "axis": {"title": "Time Since Intervention (days)", "values": [0, 30, 90], "ticks": false, "tickSize": 0, "labelFlush": false, "labelOverlap": false, "labelFontSize": 40, "labelPadding": 12, "titleFontSize": 45, "titlePadding": 22, "domainWidth": 2.5, "domainColor": "#111"}}}},
{"data": {"name": "curves"}, "transform": [{"filter": "datum.panel === 'D' && datum.group === 'Surgery'"}], "mark": {"type": "line", "interpolate": "linear", "strokeWidth": 7}, "encoding": {"x": {"field": "day", "type": "quantitative", "scale": {"domain": [0, 100], "nice": false}, "axis": {"title": "Time Since Intervention (days)", "values": [0, 30, 90], "ticks": false, "tickSize": 0, "labelFlush": false, "labelOverlap": false, "labelFontSize": 40, "labelPadding": 12, "titleFontSize": 45, "titlePadding": 22, "domainWidth": 2.5, "domainColor": "#111"}}, "y": {"field": "pct", "type": "quantitative", "scale": {"domain": [0, 10.1], "nice": false}, "axis": {"title": "Cumulative Mortality (%)", "values": [0.2,0.4,0.6,0.8,1,1.2,1.4,1.6,1.8,2,2.2,2.4,2.6,2.8,3,3.2,3.4,3.6,3.8,4,4.2,4.4,4.6,4.8,5,5.2,5.4,5.6,5.8,6,6.2,6.4,6.6,6.8,7,7.2,7.4,7.6,7.8,8,8.2,8.4,8.6,8.8,9,9.2,9.4,9.6,9.8,10], "labelExpr": "datum.value >= 0.99 && abs(datum.value - round(datum.value)) < 0.01 ? format(datum.value, 'd') : ''", "tickSize": {"condition": {"test": "abs(datum.value - round(datum.value)) < 0.01", "value": 15}, "value": 8}, "tickWidth": 2, "tickColor": "#111", "domainWidth": 3, "domainColor": "#111", "labelOverlap": false, "labelFontSize": 40, "labelPadding": 3, "titleFontSize": 46, "titlePadding": 18}}, "color": {"field": "group", "type": "nominal", "scale": {"domain": ["Surgery", "SBRT"], "range": ["#1b77bd", "#e5b714"]}, "legend": {"orient": "none", "legendX": 425, "legendY": 33, "title": null, "symbolType": "stroke", "symbolSize": 3844, "symbolStrokeWidth": 7, "labelFontSize": 33, "labelOffset": 10, "rowPadding": -3, "padding": 0, "labelColor": "#1a1a1a"}}}},
{"data": {"name": "curves"}, "transform": [{"filter": "datum.panel === 'D' && datum.group === 'SBRT'"}], "mark": {"type": "line", "interpolate": "step-after", "strokeWidth": 7}, "encoding": {"x": {"field": "day", "type": "quantitative", "scale": {"domain": [0, 100], "nice": false}, "axis": {"title": "Time Since Intervention (days)", "values": [0, 30, 90], "ticks": false, "tickSize": 0, "labelFlush": false, "labelOverlap": false, "labelFontSize": 40, "labelPadding": 12, "titleFontSize": 45, "titlePadding": 22, "domainWidth": 2.5, "domainColor": "#111"}}, "y": {"field": "pct", "type": "quantitative", "scale": {"domain": [0, 10.1], "nice": false}, "axis": {"title": "Cumulative Mortality (%)", "values": [0.2,0.4,0.6,0.8,1,1.2,1.4,1.6,1.8,2,2.2,2.4,2.6,2.8,3,3.2,3.4,3.6,3.8,4,4.2,4.4,4.6,4.8,5,5.2,5.4,5.6,5.8,6,6.2,6.4,6.6,6.8,7,7.2,7.4,7.6,7.8,8,8.2,8.4,8.6,8.8,9,9.2,9.4,9.6,9.8,10], "labelExpr": "datum.value >= 0.99 && abs(datum.value - round(datum.value)) < 0.01 ? format(datum.value, 'd') : ''", "tickSize": {"condition": {"test": "abs(datum.value - round(datum.value)) < 0.01", "value": 15}, "value": 8}, "tickWidth": 2, "tickColor": "#111", "domainWidth": 3, "domainColor": "#111", "labelOverlap": false, "labelFontSize": 40, "labelPadding": 3, "titleFontSize": 46, "titlePadding": 18}}, "color": {"field": "group", "type": "nominal", "scale": {"domain": ["Surgery", "SBRT"], "range": ["#1b77bd", "#e5b714"]}, "legend": {"orient": "none", "legendX": 425, "legendY": 33, "title": null, "symbolType": "stroke", "symbolSize": 3844, "symbolStrokeWidth": 7, "labelFontSize": 33, "labelOffset": 10, "rowPadding": -3, "padding": 0, "labelColor": "#1a1a1a"}}}},
{"data": {"name": "panels"}, "transform": [{"filter": "datum.panel === 'D'"}], "mark": {"type": "text", "fontSize": 42, "fontWeight": "bold", "baseline": "middle", "color": "#111"}, "encoding": {"x": {"datum": 50, "type": "quantitative", "scale": {"domain": [0, 100], "nice": false}, "axis": {"title": "Time Since Intervention (days)", "values": [0, 30, 90], "ticks": false, "tickSize": 0, "labelFlush": false, "labelOverlap": false, "labelFontSize": 40, "labelPadding": 12, "titleFontSize": 45, "titlePadding": 22, "domainWidth": 2.5, "domainColor": "#111"}}, "y": {"datum": 9.93, "type": "quantitative", "scale": {"domain": [0, 10.1], "nice": false}, "axis": {"title": "Cumulative Mortality (%)", "values": [0.2,0.4,0.6,0.8,1,1.2,1.4,1.6,1.8,2,2.2,2.4,2.6,2.8,3,3.2,3.4,3.6,3.8,4,4.2,4.4,4.6,4.8,5,5.2,5.4,5.6,5.8,6,6.2,6.4,6.6,6.8,7,7.2,7.4,7.6,7.8,8,8.2,8.4,8.6,8.8,9,9.2,9.4,9.6,9.8,10], "labelExpr": "datum.value >= 0.99 && abs(datum.value - round(datum.value)) < 0.01 ? format(datum.value, 'd') : ''", "tickSize": {"condition": {"test": "abs(datum.value - round(datum.value)) < 0.01", "value": 15}, "value": 8}, "tickWidth": 2, "tickColor": "#111", "domainWidth": 3, "domainColor": "#111", "labelOverlap": false, "labelFontSize": 40, "labelPadding": 3, "titleFontSize": 46, "titlePadding": 18}}, "text": {"field": "label"}}},
{"data": {"name": "panels"}, "transform": [{"filter": "datum.panel === 'D'"}], "mark": {"type": "text", "fontSize": 35, "align": "right", "baseline": "middle", "dx": -12, "color": "#111"}, "encoding": {"x": {"datum": 90, "type": "quantitative", "scale": {"domain": [0, 100], "nice": false}, "axis": {"title": "Time Since Intervention (days)", "values": [0, 30, 90], "ticks": false, "tickSize": 0, "labelFlush": false, "labelOverlap": false, "labelFontSize": 40, "labelPadding": 12, "titleFontSize": 45, "titlePadding": 22, "domainWidth": 2.5, "domainColor": "#111"}}, "y": {"datum": 0.65, "type": "quantitative", "scale": {"domain": [0, 10.1], "nice": false}, "axis": {"title": "Cumulative Mortality (%)", "values": [0.2,0.4,0.6,0.8,1,1.2,1.4,1.6,1.8,2,2.2,2.4,2.6,2.8,3,3.2,3.4,3.6,3.8,4,4.2,4.4,4.6,4.8,5,5.2,5.4,5.6,5.8,6,6.2,6.4,6.6,6.8,7,7.2,7.4,7.6,7.8,8,8.2,8.4,8.6,8.8,9,9.2,9.4,9.6,9.8,10], "labelExpr": "datum.value >= 0.99 && abs(datum.value - round(datum.value)) < 0.01 ? format(datum.value, 'd') : ''", "tickSize": {"condition": {"test": "abs(datum.value - round(datum.value)) < 0.01", "value": 15}, "value": 8}, "tickWidth": 2, "tickColor": "#111", "domainWidth": 3, "domainColor": "#111", "labelOverlap": false, "labelFontSize": 40, "labelPadding": 3, "titleFontSize": 46, "titlePadding": 18}}, "text": {"field": "pval"}}},
{"data": {"name": "panels"}, "transform": [{"filter": "datum.panel === 'D'"}], "mark": {"type": "text", "fontSize": 35, "fontStyle": "italic", "align": "right", "baseline": "middle", "dx": -120, "color": "#111"}, "encoding": {"x": {"datum": 90, "type": "quantitative", "scale": {"domain": [0, 100], "nice": false}, "axis": {"title": "Time Since Intervention (days)", "values": [0, 30, 90], "ticks": false, "tickSize": 0, "labelFlush": false, "labelOverlap": false, "labelFontSize": 40, "labelPadding": 12, "titleFontSize": 45, "titlePadding": 22, "domainWidth": 2.5, "domainColor": "#111"}}, "y": {"datum": 0.65, "type": "quantitative", "scale": {"domain": [0, 10.1], "nice": false}, "axis": {"title": "Cumulative Mortality (%)", "values": [0.2,0.4,0.6,0.8,1,1.2,1.4,1.6,1.8,2,2.2,2.4,2.6,2.8,3,3.2,3.4,3.6,3.8,4,4.2,4.4,4.6,4.8,5,5.2,5.4,5.6,5.8,6,6.2,6.4,6.6,6.8,7,7.2,7.4,7.6,7.8,8,8.2,8.4,8.6,8.8,9,9.2,9.4,9.6,9.8,10], "labelExpr": "datum.value >= 0.99 && abs(datum.value - round(datum.value)) < 0.01 ? format(datum.value, 'd') : ''", "tickSize": {"condition": {"test": "abs(datum.value - round(datum.value)) < 0.01", "value": 15}, "value": 8}, "tickWidth": 2, "tickColor": "#111", "domainWidth": 3, "domainColor": "#111", "labelOverlap": false, "labelFontSize": 40, "labelPadding": 3, "titleFontSize": 46, "titlePadding": 18}}, "text": {"value": "P"}}}
]},
{"width": 713, "height": 150, "data": {"name": "risk"}, "transform": [{"filter": "datum.panel === 'D'"}], "mark": {"type": "text", "fontSize": 33, "color": "#1a1a1a"},
"encoding": {"x": {"field": "day", "type": "quantitative", "scale": {"domain": [0, 100], "nice": false}, "axis": null}, "y": {"field": "group", "type": "nominal", "scale": {"domain": ["No. at risk:", "Surgery", "SBRT"]}, "axis": {"title": null, "domain": false, "ticks": false, "tickSize": 0, "labelAlign": "left", "labelPadding": 188, "labelFontSize": 33, "labelColor": "#1a1a1a"}}, "text": {"field": "n"}}}
]}
]},
{"spacing": 59, "resolve": {"scale": {"color": "independent"}, "legend": {"color": "independent"}}, "hconcat": [
{"spacing": 31, "resolve": {"scale": {"color": "independent"}, "legend": {"color": "independent"}}, "vconcat": [
{"width": 713, "height": 474,
"title": {"text": "G", "anchor": "start", "frame": "bounds", "dx": -52, "offset": -34, "fontSize": 44, "fontWeight": "bold", "baseline": "alphabetic"},
"layer": [
{"data": {"name": "refs"}, "mark": {"type": "rule", "strokeDash": [6, 5], "strokeWidth": 3, "color": "#111"}, "encoding": {"x": {"field": "day", "type": "quantitative", "scale": {"domain": [0, 100], "nice": false}, "axis": {"title": "Time Since Intervention (days)", "values": [0, 30, 90], "ticks": false, "tickSize": 0, "labelFlush": false, "labelOverlap": false, "labelFontSize": 40, "labelPadding": 12, "titleFontSize": 45, "titlePadding": 22, "domainWidth": 2.5, "domainColor": "#111"}}}},
{"data": {"name": "curves"}, "transform": [{"filter": "datum.panel === 'G' && datum.group === 'Surgery'"}], "mark": {"type": "line", "interpolate": "linear", "strokeWidth": 7}, "encoding": {"x": {"field": "day", "type": "quantitative", "scale": {"domain": [0, 100], "nice": false}, "axis": {"title": "Time Since Intervention (days)", "values": [0, 30, 90], "ticks": false, "tickSize": 0, "labelFlush": false, "labelOverlap": false, "labelFontSize": 40, "labelPadding": 12, "titleFontSize": 45, "titlePadding": 22, "domainWidth": 2.5, "domainColor": "#111"}}, "y": {"field": "pct", "type": "quantitative", "scale": {"domain": [0, 10.1], "nice": false}, "axis": {"title": "Cumulative Mortality (%)", "values": [0.2,0.4,0.6,0.8,1,1.2,1.4,1.6,1.8,2,2.2,2.4,2.6,2.8,3,3.2,3.4,3.6,3.8,4,4.2,4.4,4.6,4.8,5,5.2,5.4,5.6,5.8,6,6.2,6.4,6.6,6.8,7,7.2,7.4,7.6,7.8,8,8.2,8.4,8.6,8.8,9,9.2,9.4,9.6,9.8,10], "labelExpr": "datum.value >= 0.99 && abs(datum.value - round(datum.value)) < 0.01 ? format(datum.value, 'd') : ''", "tickSize": {"condition": {"test": "abs(datum.value - round(datum.value)) < 0.01", "value": 15}, "value": 8}, "tickWidth": 2, "tickColor": "#111", "domainWidth": 3, "domainColor": "#111", "labelOverlap": false, "labelFontSize": 40, "labelPadding": 3, "titleFontSize": 46, "titlePadding": 18}}, "color": {"field": "group", "type": "nominal", "scale": {"domain": ["Surgery", "SBRT"], "range": ["#1b77bd", "#e5b714"]}, "legend": {"orient": "none", "legendX": 425, "legendY": 33, "title": null, "symbolType": "stroke", "symbolSize": 3844, "symbolStrokeWidth": 7, "labelFontSize": 33, "labelOffset": 10, "rowPadding": -3, "padding": 0, "labelColor": "#1a1a1a"}}}},
{"data": {"name": "curves"}, "transform": [{"filter": "datum.panel === 'G' && datum.group === 'SBRT'"}], "mark": {"type": "line", "interpolate": "step-after", "strokeWidth": 7}, "encoding": {"x": {"field": "day", "type": "quantitative", "scale": {"domain": [0, 100], "nice": false}, "axis": {"title": "Time Since Intervention (days)", "values": [0, 30, 90], "ticks": false, "tickSize": 0, "labelFlush": false, "labelOverlap": false, "labelFontSize": 40, "labelPadding": 12, "titleFontSize": 45, "titlePadding": 22, "domainWidth": 2.5, "domainColor": "#111"}}, "y": {"field": "pct", "type": "quantitative", "scale": {"domain": [0, 10.1], "nice": false}, "axis": {"title": "Cumulative Mortality (%)", "values": [0.2,0.4,0.6,0.8,1,1.2,1.4,1.6,1.8,2,2.2,2.4,2.6,2.8,3,3.2,3.4,3.6,3.8,4,4.2,4.4,4.6,4.8,5,5.2,5.4,5.6,5.8,6,6.2,6.4,6.6,6.8,7,7.2,7.4,7.6,7.8,8,8.2,8.4,8.6,8.8,9,9.2,9.4,9.6,9.8,10], "labelExpr": "datum.value >= 0.99 && abs(datum.value - round(datum.value)) < 0.01 ? format(datum.value, 'd') : ''", "tickSize": {"condition": {"test": "abs(datum.value - round(datum.value)) < 0.01", "value": 15}, "value": 8}, "tickWidth": 2, "tickColor": "#111", "domainWidth": 3, "domainColor": "#111", "labelOverlap": false, "labelFontSize": 40, "labelPadding": 3, "titleFontSize": 46, "titlePadding": 18}}, "color": {"field": "group", "type": "nominal", "scale": {"domain": ["Surgery", "SBRT"], "range": ["#1b77bd", "#e5b714"]}, "legend": {"orient": "none", "legendX": 425, "legendY": 33, "title": null, "symbolType": "stroke", "symbolSize": 3844, "symbolStrokeWidth": 7, "labelFontSize": 33, "labelOffset": 10, "rowPadding": -3, "padding": 0, "labelColor": "#1a1a1a"}}}},
{"data": {"name": "panels"}, "transform": [{"filter": "datum.panel === 'G'"}], "mark": {"type": "text", "fontSize": 42, "fontWeight": "bold", "baseline": "middle", "color": "#111"}, "encoding": {"x": {"datum": 50, "type": "quantitative", "scale": {"domain": [0, 100], "nice": false}, "axis": {"title": "Time Since Intervention (days)", "values": [0, 30, 90], "ticks": false, "tickSize": 0, "labelFlush": false, "labelOverlap": false, "labelFontSize": 40, "labelPadding": 12, "titleFontSize": 45, "titlePadding": 22, "domainWidth": 2.5, "domainColor": "#111"}}, "y": {"datum": 9.93, "type": "quantitative", "scale": {"domain": [0, 10.1], "nice": false}, "axis": {"title": "Cumulative Mortality (%)", "values": [0.2,0.4,0.6,0.8,1,1.2,1.4,1.6,1.8,2,2.2,2.4,2.6,2.8,3,3.2,3.4,3.6,3.8,4,4.2,4.4,4.6,4.8,5,5.2,5.4,5.6,5.8,6,6.2,6.4,6.6,6.8,7,7.2,7.4,7.6,7.8,8,8.2,8.4,8.6,8.8,9,9.2,9.4,9.6,9.8,10], "labelExpr": "datum.value >= 0.99 && abs(datum.value - round(datum.value)) < 0.01 ? format(datum.value, 'd') : ''", "tickSize": {"condition": {"test": "abs(datum.value - round(datum.value)) < 0.01", "value": 15}, "value": 8}, "tickWidth": 2, "tickColor": "#111", "domainWidth": 3, "domainColor": "#111", "labelOverlap": false, "labelFontSize": 40, "labelPadding": 3, "titleFontSize": 46, "titlePadding": 18}}, "text": {"field": "label"}}},
{"data": {"name": "panels"}, "transform": [{"filter": "datum.panel === 'G'"}], "mark": {"type": "text", "fontSize": 35, "align": "right", "baseline": "middle", "dx": -12, "color": "#111"}, "encoding": {"x": {"datum": 90, "type": "quantitative", "scale": {"domain": [0, 100], "nice": false}, "axis": {"title": "Time Since Intervention (days)", "values": [0, 30, 90], "ticks": false, "tickSize": 0, "labelFlush": false, "labelOverlap": false, "labelFontSize": 40, "labelPadding": 12, "titleFontSize": 45, "titlePadding": 22, "domainWidth": 2.5, "domainColor": "#111"}}, "y": {"datum": 0.65, "type": "quantitative", "scale": {"domain": [0, 10.1], "nice": false}, "axis": {"title": "Cumulative Mortality (%)", "values": [0.2,0.4,0.6,0.8,1,1.2,1.4,1.6,1.8,2,2.2,2.4,2.6,2.8,3,3.2,3.4,3.6,3.8,4,4.2,4.4,4.6,4.8,5,5.2,5.4,5.6,5.8,6,6.2,6.4,6.6,6.8,7,7.2,7.4,7.6,7.8,8,8.2,8.4,8.6,8.8,9,9.2,9.4,9.6,9.8,10], "labelExpr": "datum.value >= 0.99 && abs(datum.value - round(datum.value)) < 0.01 ? format(datum.value, 'd') : ''", "tickSize": {"condition": {"test": "abs(datum.value - round(datum.value)) < 0.01", "value": 15}, "value": 8}, "tickWidth": 2, "tickColor": "#111", "domainWidth": 3, "domainColor": "#111", "labelOverlap": false, "labelFontSize": 40, "labelPadding": 3, "titleFontSize": 46, "titlePadding": 18}}, "text": {"field": "pval"}}},
{"data": {"name": "panels"}, "transform": [{"filter": "datum.panel === 'G'"}], "mark": {"type": "text", "fontSize": 35, "fontStyle": "italic", "align": "right", "baseline": "middle", "dx": -120, "color": "#111"}, "encoding": {"x": {"datum": 90, "type": "quantitative", "scale": {"domain": [0, 100], "nice": false}, "axis": {"title": "Time Since Intervention (days)", "values": [0, 30, 90], "ticks": false, "tickSize": 0, "labelFlush": false, "labelOverlap": false, "labelFontSize": 40, "labelPadding": 12, "titleFontSize": 45, "titlePadding": 22, "domainWidth": 2.5, "domainColor": "#111"}}, "y": {"datum": 0.65, "type": "quantitative", "scale": {"domain": [0, 10.1], "nice": false}, "axis": {"title": "Cumulative Mortality (%)", "values": [0.2,0.4,0.6,0.8,1,1.2,1.4,1.6,1.8,2,2.2,2.4,2.6,2.8,3,3.2,3.4,3.6,3.8,4,4.2,4.4,4.6,4.8,5,5.2,5.4,5.6,5.8,6,6.2,6.4,6.6,6.8,7,7.2,7.4,7.6,7.8,8,8.2,8.4,8.6,8.8,9,9.2,9.4,9.6,9.8,10], "labelExpr": "datum.value >= 0.99 && abs(datum.value - round(datum.value)) < 0.01 ? format(datum.value, 'd') : ''", "tickSize": {"condition": {"test": "abs(datum.value - round(datum.value)) < 0.01", "value": 15}, "value": 8}, "tickWidth": 2, "tickColor": "#111", "domainWidth": 3, "domainColor": "#111", "labelOverlap": false, "labelFontSize": 40, "labelPadding": 3, "titleFontSize": 46, "titlePadding": 18}}, "text": {"value": "P"}}}
]},
{"width": 713, "height": 150, "data": {"name": "risk"}, "transform": [{"filter": "datum.panel === 'G'"}], "mark": {"type": "text", "fontSize": 33, "color": "#1a1a1a"},
"encoding": {"x": {"field": "day", "type": "quantitative", "scale": {"domain": [0, 100], "nice": false}, "axis": null}, "y": {"field": "group", "type": "nominal", "scale": {"domain": ["No. at risk:", "Surgery", "SBRT"]}, "axis": {"title": null, "domain": false, "ticks": false, "tickSize": 0, "labelAlign": "left", "labelPadding": 188, "labelFontSize": 33, "labelColor": "#1a1a1a"}}, "text": {"field": "n"}}}
]},
{"spacing": 31, "resolve": {"scale": {"color": "independent"}, "legend": {"color": "independent"}}, "vconcat": [
{"width": 713, "height": 474,
"title": {"text": "H", "anchor": "start", "frame": "bounds", "dx": -52, "offset": -34, "fontSize": 44, "fontWeight": "bold", "baseline": "alphabetic"},
"layer": [
{"data": {"name": "refs"}, "mark": {"type": "rule", "strokeDash": [6, 5], "strokeWidth": 3, "color": "#111"}, "encoding": {"x": {"field": "day", "type": "quantitative", "scale": {"domain": [0, 100], "nice": false}, "axis": {"title": "Time Since Intervention (days)", "values": [0, 30, 90], "ticks": false, "tickSize": 0, "labelFlush": false, "labelOverlap": false, "labelFontSize": 40, "labelPadding": 12, "titleFontSize": 45, "titlePadding": 22, "domainWidth": 2.5, "domainColor": "#111"}}}},
{"data": {"name": "curves"}, "transform": [{"filter": "datum.panel === 'H' && datum.group === 'Surgery'"}], "mark": {"type": "line", "interpolate": "linear", "strokeWidth": 7}, "encoding": {"x": {"field": "day", "type": "quantitative", "scale": {"domain": [0, 100], "nice": false}, "axis": {"title": "Time Since Intervention (days)", "values": [0, 30, 90], "ticks": false, "tickSize": 0, "labelFlush": false, "labelOverlap": false, "labelFontSize": 40, "labelPadding": 12, "titleFontSize": 45, "titlePadding": 22, "domainWidth": 2.5, "domainColor": "#111"}}, "y": {"field": "pct", "type": "quantitative", "scale": {"domain": [0, 10.1], "nice": false}, "axis": {"title": "Cumulative Mortality (%)", "values": [0.2,0.4,0.6,0.8,1,1.2,1.4,1.6,1.8,2,2.2,2.4,2.6,2.8,3,3.2,3.4,3.6,3.8,4,4.2,4.4,4.6,4.8,5,5.2,5.4,5.6,5.8,6,6.2,6.4,6.6,6.8,7,7.2,7.4,7.6,7.8,8,8.2,8.4,8.6,8.8,9,9.2,9.4,9.6,9.8,10], "labelExpr": "datum.value >= 0.99 && abs(datum.value - round(datum.value)) < 0.01 ? format(datum.value, 'd') : ''", "tickSize": {"condition": {"test": "abs(datum.value - round(datum.value)) < 0.01", "value": 15}, "value": 8}, "tickWidth": 2, "tickColor": "#111", "domainWidth": 3, "domainColor": "#111", "labelOverlap": false, "labelFontSize": 40, "labelPadding": 3, "titleFontSize": 46, "titlePadding": 18}}, "color": {"field": "group", "type": "nominal", "scale": {"domain": ["Surgery", "SBRT"], "range": ["#1b77bd", "#e5b714"]}, "legend": {"orient": "none", "legendX": 425, "legendY": 33, "title": null, "symbolType": "stroke", "symbolSize": 3844, "symbolStrokeWidth": 7, "labelFontSize": 33, "labelOffset": 10, "rowPadding": -3, "padding": 0, "labelColor": "#1a1a1a"}}}},
{"data": {"name": "curves"}, "transform": [{"filter": "datum.panel === 'H' && datum.group === 'SBRT'"}], "mark": {"type": "line", "interpolate": "step-after", "strokeWidth": 7}, "encoding": {"x": {"field": "day", "type": "quantitative", "scale": {"domain": [0, 100], "nice": false}, "axis": {"title": "Time Since Intervention (days)", "values": [0, 30, 90], "ticks": false, "tickSize": 0, "labelFlush": false, "labelOverlap": false, "labelFontSize": 40, "labelPadding": 12, "titleFontSize": 45, "titlePadding": 22, "domainWidth": 2.5, "domainColor": "#111"}}, "y": {"field": "pct", "type": "quantitative", "scale": {"domain": [0, 10.1], "nice": false}, "axis": {"title": "Cumulative Mortality (%)", "values": [0.2,0.4,0.6,0.8,1,1.2,1.4,1.6,1.8,2,2.2,2.4,2.6,2.8,3,3.2,3.4,3.6,3.8,4,4.2,4.4,4.6,4.8,5,5.2,5.4,5.6,5.8,6,6.2,6.4,6.6,6.8,7,7.2,7.4,7.6,7.8,8,8.2,8.4,8.6,8.8,9,9.2,9.4,9.6,9.8,10], "labelExpr": "datum.value >= 0.99 && abs(datum.value - round(datum.value)) < 0.01 ? format(datum.value, 'd') : ''", "tickSize": {"condition": {"test": "abs(datum.value - round(datum.value)) < 0.01", "value": 15}, "value": 8}, "tickWidth": 2, "tickColor": "#111", "domainWidth": 3, "domainColor": "#111", "labelOverlap": false, "labelFontSize": 40, "labelPadding": 3, "titleFontSize": 46, "titlePadding": 18}}, "color": {"field": "group", "type": "nominal", "scale": {"domain": ["Surgery", "SBRT"], "range": ["#1b77bd", "#e5b714"]}, "legend": {"orient": "none", "legendX": 425, "legendY": 33, "title": null, "symbolType": "stroke", "symbolSize": 3844, "symbolStrokeWidth": 7, "labelFontSize": 33, "labelOffset": 10, "rowPadding": -3, "padding": 0, "labelColor": "#1a1a1a"}}}},
{"data": {"name": "panels"}, "transform": [{"filter": "datum.panel === 'H'"}], "mark": {"type": "text", "fontSize": 42, "fontWeight": "bold", "baseline": "middle", "color": "#111"}, "encoding": {"x": {"datum": 50, "type": "quantitative", "scale": {"domain": [0, 100], "nice": false}, "axis": {"title": "Time Since Intervention (days)", "values": [0, 30, 90], "ticks": false, "tickSize": 0, "labelFlush": false, "labelOverlap": false, "labelFontSize": 40, "labelPadding": 12, "titleFontSize": 45, "titlePadding": 22, "domainWidth": 2.5, "domainColor": "#111"}}, "y": {"datum": 9.93, "type": "quantitative", "scale": {"domain": [0, 10.1], "nice": false}, "axis": {"title": "Cumulative Mortality (%)", "values": [0.2,0.4,0.6,0.8,1,1.2,1.4,1.6,1.8,2,2.2,2.4,2.6,2.8,3,3.2,3.4,3.6,3.8,4,4.2,4.4,4.6,4.8,5,5.2,5.4,5.6,5.8,6,6.2,6.4,6.6,6.8,7,7.2,7.4,7.6,7.8,8,8.2,8.4,8.6,8.8,9,9.2,9.4,9.6,9.8,10], "labelExpr": "datum.value >= 0.99 && abs(datum.value - round(datum.value)) < 0.01 ? format(datum.value, 'd') : ''", "tickSize": {"condition": {"test": "abs(datum.value - round(datum.value)) < 0.01", "value": 15}, "value": 8}, "tickWidth": 2, "tickColor": "#111", "domainWidth": 3, "domainColor": "#111", "labelOverlap": false, "labelFontSize": 40, "labelPadding": 3, "titleFontSize": 46, "titlePadding": 18}}, "text": {"field": "label"}}},
{"data": {"name": "panels"}, "transform": [{"filter": "datum.panel === 'H'"}], "mark": {"type": "text", "fontSize": 35, "align": "right", "baseline": "middle", "dx": -12, "color": "#111"}, "encoding": {"x": {"datum": 90, "type": "quantitative", "scale": {"domain": [0, 100], "nice": false}, "axis": {"title": "Time Since Intervention (days)", "values": [0, 30, 90], "ticks": false, "tickSize": 0, "labelFlush": false, "labelOverlap": false, "labelFontSize": 40, "labelPadding": 12, "titleFontSize": 45, "titlePadding": 22, "domainWidth": 2.5, "domainColor": "#111"}}, "y": {"datum": 0.65, "type": "quantitative", "scale": {"domain": [0, 10.1], "nice": false}, "axis": {"title": "Cumulative Mortality (%)", "values": [0.2,0.4,0.6,0.8,1,1.2,1.4,1.6,1.8,2,2.2,2.4,2.6,2.8,3,3.2,3.4,3.6,3.8,4,4.2,4.4,4.6,4.8,5,5.2,5.4,5.6,5.8,6,6.2,6.4,6.6,6.8,7,7.2,7.4,7.6,7.8,8,8.2,8.4,8.6,8.8,9,9.2,9.4,9.6,9.8,10], "labelExpr": "datum.value >= 0.99 && abs(datum.value - round(datum.value)) < 0.01 ? format(datum.value, 'd') : ''", "tickSize": {"condition": {"test": "abs(datum.value - round(datum.value)) < 0.01", "value": 15}, "value": 8}, "tickWidth": 2, "tickColor": "#111", "domainWidth": 3, "domainColor": "#111", "labelOverlap": false, "labelFontSize": 40, "labelPadding": 3, "titleFontSize": 46, "titlePadding": 18}}, "text": {"field": "pval"}}},
{"data": {"name": "panels"}, "transform": [{"filter": "datum.panel === 'H'"}], "mark": {"type": "text", "fontSize": 35, "fontStyle": "italic", "align": "right", "baseline": "middle", "dx": -120, "color": "#111"}, "encoding": {"x": {"datum": 90, "type": "quantitative", "scale": {"domain": [0, 100], "nice": false}, "axis": {"title": "Time Since Intervention (days)", "values": [0, 30, 90], "ticks": false, "tickSize": 0, "labelFlush": false, "labelOverlap": false, "labelFontSize": 40, "labelPadding": 12, "titleFontSize": 45, "titlePadding": 22, "domainWidth": 2.5, "domainColor": "#111"}}, "y": {"datum": 0.65, "type": "quantitative", "scale": {"domain": [0, 10.1], "nice": false}, "axis": {"title": "Cumulative Mortality (%)", "values": [0.2,0.4,0.6,0.8,1,1.2,1.4,1.6,1.8,2,2.2,2.4,2.6,2.8,3,3.2,3.4,3.6,3.8,4,4.2,4.4,4.6,4.8,5,5.2,5.4,5.6,5.8,6,6.2,6.4,6.6,6.8,7,7.2,7.4,7.6,7.8,8,8.2,8.4,8.6,8.8,9,9.2,9.4,9.6,9.8,10], "labelExpr": "datum.value >= 0.99 && abs(datum.value - round(datum.value)) < 0.01 ? format(datum.value, 'd') : ''", "tickSize": {"condition": {"test": "abs(datum.value - round(datum.value)) < 0.01", "value": 15}, "value": 8}, "tickWidth": 2, "tickColor": "#111", "domainWidth": 3, "domainColor": "#111", "labelOverlap": false, "labelFontSize": 40, "labelPadding": 3, "titleFontSize": 46, "titlePadding": 18}}, "text": {"value": "P"}}}
]},
{"width": 713, "height": 150, "data": {"name": "risk"}, "transform": [{"filter": "datum.panel === 'H'"}], "mark": {"type": "text", "fontSize": 33, "color": "#1a1a1a"},
"encoding": {"x": {"field": "day", "type": "quantitative", "scale": {"domain": [0, 100], "nice": false}, "axis": null}, "y": {"field": "group", "type": "nominal", "scale": {"domain": ["No. at risk:", "Surgery", "SBRT"]}, "axis": {"title": null, "domain": false, "ticks": false, "tickSize": 0, "labelAlign": "left", "labelPadding": 188, "labelFontSize": 33, "labelColor": "#1a1a1a"}}, "text": {"field": "n"}}}
]}
]}
]}
]
}
